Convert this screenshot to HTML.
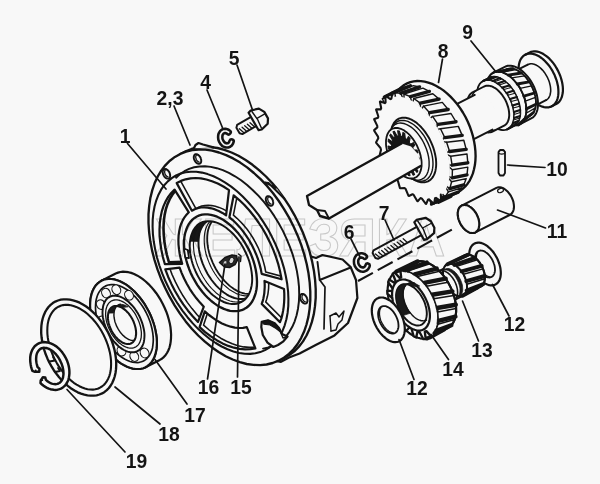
<!DOCTYPE html>
<html><head><meta charset="utf-8"><title>diagram</title>
<style>html,body{margin:0;padding:0;background:#f8f8f8;}svg{display:block;}text{font-family:"Liberation Sans",sans-serif;}svg{opacity:0.999;}</style>
</head><body>
<svg width="600" height="484" viewBox="0 0 600 484">
<rect width="600" height="484" fill="#f8f8f8"/>
<path d="M525.3 54.7 L524.1 55.4 L522.9 56.4 L521.9 57.5 L521.0 58.8 L520.2 60.3 L519.6 61.9 L519.1 63.7 L518.8 65.6 L518.6 67.6 L518.6 69.7 L518.7 71.9 L518.9 74.2 L519.4 76.5 L519.9 78.8 L520.6 81.2 L521.5 83.5 L522.4 85.9 L523.5 88.1 L524.7 90.4 L526.0 92.5 L527.4 94.6 L528.9 96.5 L530.5 98.3 L532.1 100.0 L533.8 101.6 L535.5 103.0 L537.2 104.2 L539.0 105.2 L540.7 106.0 L542.4 106.7 L544.1 107.1 L545.7 107.4 L547.3 107.4 L548.9 107.3 L550.3 106.9 L551.7 106.3 L556.1 104.1 L557.4 103.3 L558.5 102.4 L559.6 101.2 L560.5 99.9 L561.2 98.4 L561.9 96.8 L562.3 95.0 L562.7 93.1 L562.9 91.1 L562.9 89.0 L562.8 86.8 L562.5 84.5 L562.1 82.2 L561.5 79.9 L560.8 77.5 L560.0 75.2 L559.0 72.9 L557.9 70.6 L556.7 68.4 L555.4 66.2 L554.0 64.2 L552.5 62.2 L551.0 60.4 L549.4 58.7 L547.7 57.2 L546.0 55.8 L544.2 54.6 L542.5 53.5 L540.8 52.7 L539.0 52.0 L537.4 51.6 L535.7 51.3 L534.1 51.3 L532.6 51.5 L531.1 51.8 L529.8 52.4Z" fill="#f8f8f8" stroke="#141414" stroke-width="2.21" stroke-linejoin="round" stroke-linecap="round" />
<path d="M551.7 106.3 L552.9 105.6 L554.1 104.6 L555.1 103.5 L556.0 102.2 L556.8 100.7 L557.4 99.1 L557.9 97.3 L558.2 95.4 L558.4 93.4 L558.4 91.3 L558.3 89.1 L558.1 86.8 L557.6 84.5 L557.1 82.2 L556.4 79.8 L555.5 77.5 L554.6 75.1 L553.5 72.9 L552.3 70.6 L551.0 68.5 L549.6 66.4 L548.1 64.5 L546.5 62.7 L544.9 61.0 L543.2 59.4 L541.5 58.0 L539.8 56.8 L538.0 55.8 L536.3 55.0 L534.6 54.3 L532.9 53.9 L531.3 53.6 L529.7 53.6 L528.1 53.7 L526.7 54.1 L525.3 54.7" fill="none" stroke="#141414" stroke-width="2.21" stroke-linejoin="round" stroke-linecap="round" />
<path d="M510.9 73.2 L510.1 73.7 L509.3 74.4 L508.6 75.2 L507.9 76.1 L507.4 77.1 L507.0 78.2 L506.6 79.4 L506.4 80.7 L506.3 82.1 L506.2 83.6 L506.3 85.1 L506.5 86.7 L506.8 88.2 L507.2 89.9 L507.7 91.5 L508.2 93.1 L508.9 94.7 L509.7 96.3 L510.5 97.8 L511.4 99.3 L512.4 100.7 L513.4 102.0 L514.5 103.3 L515.6 104.5 L516.7 105.5 L517.9 106.5 L519.1 107.3 L520.3 108.0 L521.5 108.6 L522.7 109.1 L523.9 109.4 L525.0 109.5 L526.1 109.6 L527.1 109.5 L528.1 109.2 L529.1 108.8 L546.0 100.2 L546.9 99.7 L547.7 99.0 L548.4 98.2 L549.0 97.3 L549.5 96.3 L550.0 95.2 L550.3 94.0 L550.5 92.6 L550.7 91.3 L550.7 89.8 L550.6 88.3 L550.4 86.7 L550.1 85.1 L549.7 83.5 L549.3 81.9 L548.7 80.3 L548.0 78.7 L547.3 77.1 L546.4 75.6 L545.5 74.1 L544.6 72.7 L543.5 71.3 L542.5 70.1 L541.3 68.9 L540.2 67.8 L539.0 66.9 L537.8 66.0 L536.6 65.3 L535.4 64.8 L534.2 64.3 L533.1 64.0 L531.9 63.8 L530.8 63.8 L529.8 63.9 L528.8 64.2 L527.8 64.6Z" fill="#f8f8f8" stroke="#f8f8f8" stroke-width="0.1" stroke-linejoin="round" stroke-linecap="round" />
<path d="M510.9 73.2 L527.8 64.6" fill="none" stroke="#141414" stroke-width="1.95" stroke-linejoin="round" stroke-linecap="round" />
<path d="M529.1 108.8 L546.0 100.2" fill="none" stroke="#141414" stroke-width="1.95" stroke-linejoin="round" stroke-linecap="round" />
<path d="M546.0 100.2 L546.9 99.7 L547.7 99.0 L548.4 98.2 L549.0 97.3 L549.5 96.3 L550.0 95.2 L550.3 94.0 L550.5 92.6 L550.7 91.3 L550.7 89.8 L550.6 88.3 L550.4 86.7 L550.1 85.1 L549.7 83.5 L549.3 81.9 L548.7 80.3 L548.0 78.7 L547.3 77.1 L546.4 75.6 L545.5 74.1 L544.6 72.7 L543.5 71.3 L542.5 70.1 L541.3 68.9 L540.2 67.8 L539.0 66.9 L537.8 66.0 L536.6 65.3 L535.4 64.8 L534.2 64.3 L533.1 64.0 L531.9 63.8 L530.8 63.8 L529.8 63.9 L528.8 64.2 L527.8 64.6" fill="none" stroke="#141414" stroke-width="1.56" stroke-linejoin="round" stroke-linecap="round" />
<path d="M493.3 72.7 L492.1 73.4 L490.9 74.4 L489.9 75.5 L489.0 76.8 L488.2 78.3 L487.6 79.9 L487.1 81.7 L486.8 83.6 L486.6 85.6 L486.6 87.7 L486.7 89.9 L486.9 92.2 L487.4 94.5 L487.9 96.8 L488.6 99.2 L489.5 101.5 L490.4 103.9 L491.5 106.1 L492.7 108.4 L494.0 110.5 L495.4 112.6 L496.9 114.5 L498.5 116.3 L500.1 118.0 L501.8 119.6 L503.5 121.0 L505.2 122.2 L507.0 123.2 L508.7 124.0 L510.4 124.7 L512.1 125.1 L513.7 125.4 L515.3 125.4 L516.9 125.3 L518.3 124.9 L519.7 124.3 L531.2 118.4 L532.5 117.7 L533.7 116.7 L534.7 115.6 L535.6 114.3 L536.3 112.8 L537.0 111.2 L537.5 109.4 L537.8 107.5 L538.0 105.5 L538.0 103.4 L537.9 101.2 L537.6 98.9 L537.2 96.6 L536.7 94.3 L536.0 91.9 L535.1 89.6 L534.2 87.2 L533.1 85.0 L531.9 82.7 L530.6 80.6 L529.2 78.5 L527.7 76.6 L526.1 74.8 L524.5 73.1 L522.8 71.5 L521.1 70.1 L519.4 68.9 L517.6 67.9 L515.9 67.1 L514.2 66.4 L512.5 66.0 L510.8 65.7 L509.2 65.7 L507.7 65.8 L506.3 66.2 L504.9 66.8Z" fill="#f8f8f8" stroke="#141414" stroke-width="1.95" stroke-linejoin="round" stroke-linecap="round" />
<path d="M519.7 124.3 L520.9 123.6 L522.1 122.6 L523.1 121.5 L524.0 120.2 L524.8 118.7 L525.4 117.1 L525.9 115.3 L526.2 113.4 L526.4 111.4 L526.4 109.3 L526.3 107.1 L526.1 104.8 L525.6 102.5 L525.1 100.2 L524.4 97.8 L523.5 95.5 L522.6 93.1 L521.5 90.9 L520.3 88.6 L519.0 86.5 L517.6 84.4 L516.1 82.5 L514.5 80.7 L512.9 79.0 L511.2 77.4 L509.5 76.0 L507.8 74.8 L506.0 73.8 L504.3 73.0 L502.6 72.3 L500.9 71.9 L499.3 71.6 L497.7 71.6 L496.1 71.7 L494.7 72.1 L493.3 72.7" fill="none" stroke="#141414" stroke-width="1.95" stroke-linejoin="round" stroke-linecap="round" />
<path d="M518.4 124.9 L522.6 122.1 L531.3 114.8 L527.2 116.6Z" fill="#f8f8f8" stroke="#141414" stroke-width="1.3" stroke-linejoin="round" stroke-linecap="round" />
<path d="M518.4 124.9 L527.2 116.6" fill="none" stroke="#141414" stroke-width="2.86" stroke-linejoin="round" stroke-linecap="round" />
<path d="M524.5 119.3 L526.2 113.3 L535.4 107.9 L533.3 112.7Z" fill="#f8f8f8" stroke="#141414" stroke-width="1.3" stroke-linejoin="round" stroke-linecap="round" />
<path d="M524.5 119.3 L533.3 112.7" fill="none" stroke="#141414" stroke-width="2.86" stroke-linejoin="round" stroke-linecap="round" />
<path d="M526.4 108.9 L525.3 101.1 L535.5 97.4 L535.9 104.2Z" fill="#f8f8f8" stroke="#141414" stroke-width="1.3" stroke-linejoin="round" stroke-linecap="round" />
<path d="M526.4 108.9 L535.9 104.2" fill="none" stroke="#141414" stroke-width="2.86" stroke-linejoin="round" stroke-linecap="round" />
<path d="M523.8 96.2 L520.1 88.4 L531.6 85.9 L534.4 93.0Z" fill="#f8f8f8" stroke="#141414" stroke-width="1.3" stroke-linejoin="round" stroke-linecap="round" />
<path d="M523.8 96.2 L534.4 93.0" fill="none" stroke="#141414" stroke-width="2.86" stroke-linejoin="round" stroke-linecap="round" />
<path d="M517.2 84.0 L511.8 77.9 L524.6 75.9 L529.2 81.8Z" fill="#f8f8f8" stroke="#141414" stroke-width="1.3" stroke-linejoin="round" stroke-linecap="round" />
<path d="M517.2 84.0 L529.2 81.8" fill="none" stroke="#141414" stroke-width="2.86" stroke-linejoin="round" stroke-linecap="round" />
<path d="M508.2 75.1 L502.2 72.2 L516.1 69.7 L521.4 73.0Z" fill="#f8f8f8" stroke="#141414" stroke-width="1.3" stroke-linejoin="round" stroke-linecap="round" />
<path d="M508.2 75.1 L521.4 73.0" fill="none" stroke="#141414" stroke-width="2.86" stroke-linejoin="round" stroke-linecap="round" />
<path d="M498.7 71.6 L493.7 72.5 L508.1 68.8 L512.9 68.7Z" fill="#f8f8f8" stroke="#141414" stroke-width="1.3" stroke-linejoin="round" stroke-linecap="round" />
<path d="M498.7 71.6 L512.9 68.7" fill="none" stroke="#141414" stroke-width="2.86" stroke-linejoin="round" stroke-linecap="round" />
<path d="M528.7 116.3 L529.9 115.8 L531.0 115.1 L532.0 114.2 L533.0 113.2 L533.8 112.0 L534.5 110.7 L535.0 109.2 L535.5 107.6 L535.8 105.9 L535.9 104.1 L536.0 102.2 L535.9 100.3 L535.6 98.3 L535.2 96.2 L534.7 94.1 L534.1 92.0 L533.4 89.9 L532.5 87.8 L531.5 85.8 L530.4 83.8 L529.3 81.8 L528.0 80.0 L526.7 78.2 L525.3 76.6 L523.8 75.1 L522.3 73.7 L520.8 72.5 L519.2 71.4 L517.7 70.5 L516.1 69.7 L514.6 69.1 L513.1 68.7 L511.6 68.5 L510.2 68.4 L508.8 68.6 L507.5 68.9 L506.3 69.4 L505.2 70.1" fill="none" stroke="#141414" stroke-width="1.82" stroke-linejoin="round" stroke-linecap="round" />
<path d="M516.9 125.3 L518.3 124.9 L519.7 124.3 L520.9 123.6 L522.1 122.6 L523.1 121.5 L524.0 120.2 L524.8 118.7 L525.4 117.1 L525.9 115.3 L526.2 113.4 L526.4 111.4 L526.4 109.3 L526.3 107.1 L526.1 104.8 L525.6 102.5 L525.1 100.2 L524.4 97.8 L523.5 95.5 L522.6 93.1 L521.5 90.9 L520.3 88.6 L519.0 86.5 L517.6 84.4 L516.1 82.5 L514.5 80.7 L512.9 79.0 L511.2 77.4 L509.5 76.0 L507.8 74.8 L506.0 73.8 L504.3 73.0 L502.6 72.3 L500.9 71.9 L499.3 71.6 L497.7 71.6 L496.1 71.7 L494.7 72.1 L493.3 72.7 L492.1 73.4 L490.9 74.4" fill="none" stroke="#141414" stroke-width="1.69" stroke-linejoin="round" stroke-linecap="round" />
<path d="M483.2 80.9 L482.1 81.7 L481.0 82.5 L480.0 83.6 L479.2 84.8 L478.5 86.2 L477.9 87.7 L477.5 89.4 L477.1 91.1 L477.0 93.0 L476.9 95.0 L477.0 97.0 L477.3 99.1 L477.7 101.3 L478.2 103.5 L478.8 105.6 L479.6 107.8 L480.5 110.0 L481.5 112.1 L482.7 114.2 L483.9 116.2 L485.2 118.1 L486.6 119.9 L488.0 121.6 L489.5 123.2 L491.1 124.6 L492.7 125.9 L494.3 127.0 L495.9 128.0 L497.5 128.8 L499.1 129.4 L500.7 129.8 L502.2 130.0 L503.7 130.1 L505.1 129.9 L506.5 129.6 L507.8 129.1 L514.0 125.9 L515.2 125.2 L516.2 124.3 L517.2 123.2 L518.0 122.0 L518.7 120.6 L519.3 119.1 L519.8 117.5 L520.1 115.7 L520.3 113.8 L520.3 111.8 L520.2 109.8 L519.9 107.7 L519.6 105.5 L519.0 103.4 L518.4 101.2 L517.6 99.0 L516.7 96.8 L515.7 94.7 L514.6 92.6 L513.3 90.6 L512.0 88.7 L510.7 86.9 L509.2 85.2 L507.7 83.6 L506.1 82.2 L504.5 80.9 L502.9 79.8 L501.3 78.8 L499.7 78.0 L498.1 77.4 L496.5 77.0 L495.0 76.8 L493.5 76.7 L492.1 76.9 L490.7 77.2 L489.5 77.8Z" fill="#f8f8f8" stroke="#141414" stroke-width="1.82" stroke-linejoin="round" stroke-linecap="round" />
<path d="M507.8 129.1 L508.9 128.3 L510.0 127.5 L511.0 126.4 L511.8 125.2 L512.5 123.8 L513.1 122.3 L513.5 120.6 L513.9 118.9 L514.0 117.0 L514.1 115.0 L514.0 113.0 L513.7 110.9 L513.3 108.7 L512.8 106.5 L512.2 104.4 L511.4 102.2 L510.5 100.0 L509.5 97.9 L508.3 95.8 L507.1 93.8 L505.8 91.9 L504.4 90.1 L503.0 88.4 L501.5 86.8 L499.9 85.4 L498.3 84.1 L496.7 83.0 L495.1 82.0 L493.5 81.2 L491.9 80.6 L490.3 80.2 L488.8 80.0 L487.3 79.9 L485.9 80.1 L484.5 80.4 L483.2 80.9" fill="none" stroke="#141414" stroke-width="1.82" stroke-linejoin="round" stroke-linecap="round" />
<path d="M507.1 129.3 L509.3 128.1 L514.8 125.4 L512.6 126.4Z" fill="#f8f8f8" stroke="#141414" stroke-width="1.04" stroke-linejoin="round" stroke-linecap="round" />
<path d="M507.1 129.3 L512.6 126.4" fill="none" stroke="#141414" stroke-width="2.08" stroke-linejoin="round" stroke-linecap="round" />
<path d="M510.5 126.9 L512.0 124.8 L517.8 122.4 L516.1 124.4Z" fill="#f8f8f8" stroke="#141414" stroke-width="1.04" stroke-linejoin="round" stroke-linecap="round" />
<path d="M510.5 126.9 L516.1 124.4" fill="none" stroke="#141414" stroke-width="2.08" stroke-linejoin="round" stroke-linecap="round" />
<path d="M512.8 123.1 L513.7 120.1 L519.7 118.0 L518.7 120.8Z" fill="#f8f8f8" stroke="#141414" stroke-width="1.04" stroke-linejoin="round" stroke-linecap="round" />
<path d="M512.8 123.1 L518.7 120.8" fill="none" stroke="#141414" stroke-width="2.08" stroke-linejoin="round" stroke-linecap="round" />
<path d="M514.0 117.9 L514.1 114.4 L520.3 112.4 L520.1 115.9Z" fill="#f8f8f8" stroke="#141414" stroke-width="1.04" stroke-linejoin="round" stroke-linecap="round" />
<path d="M514.0 117.9 L520.1 115.9" fill="none" stroke="#141414" stroke-width="2.08" stroke-linejoin="round" stroke-linecap="round" />
<path d="M513.9 111.9 L513.2 108.1 L519.7 106.2 L520.2 110.0Z" fill="#f8f8f8" stroke="#141414" stroke-width="1.04" stroke-linejoin="round" stroke-linecap="round" />
<path d="M513.9 111.9 L520.2 110.0" fill="none" stroke="#141414" stroke-width="2.08" stroke-linejoin="round" stroke-linecap="round" />
<path d="M512.5 105.5 L511.1 101.5 L517.9 99.7 L519.1 103.6Z" fill="#f8f8f8" stroke="#141414" stroke-width="1.04" stroke-linejoin="round" stroke-linecap="round" />
<path d="M512.5 105.5 L519.1 103.6" fill="none" stroke="#141414" stroke-width="2.08" stroke-linejoin="round" stroke-linecap="round" />
<path d="M510.0 98.9 L508.0 95.2 L514.9 93.3 L516.8 97.1Z" fill="#f8f8f8" stroke="#141414" stroke-width="1.04" stroke-linejoin="round" stroke-linecap="round" />
<path d="M510.0 98.9 L516.8 97.1" fill="none" stroke="#141414" stroke-width="2.08" stroke-linejoin="round" stroke-linecap="round" />
<path d="M506.5 92.9 L504.0 89.6 L511.1 87.4 L513.5 90.8Z" fill="#f8f8f8" stroke="#141414" stroke-width="1.04" stroke-linejoin="round" stroke-linecap="round" />
<path d="M506.5 92.9 L513.5 90.8" fill="none" stroke="#141414" stroke-width="2.08" stroke-linejoin="round" stroke-linecap="round" />
<path d="M502.2 87.6 L499.4 85.0 L506.6 82.6 L509.4 85.4Z" fill="#f8f8f8" stroke="#141414" stroke-width="1.04" stroke-linejoin="round" stroke-linecap="round" />
<path d="M502.2 87.6 L509.4 85.4" fill="none" stroke="#141414" stroke-width="2.08" stroke-linejoin="round" stroke-linecap="round" />
<path d="M497.5 83.5 L494.6 81.7 L501.8 79.1 L504.7 81.0Z" fill="#f8f8f8" stroke="#141414" stroke-width="1.04" stroke-linejoin="round" stroke-linecap="round" />
<path d="M497.5 83.5 L504.7 81.0" fill="none" stroke="#141414" stroke-width="2.08" stroke-linejoin="round" stroke-linecap="round" />
<path d="M492.7 80.9 L489.8 80.1 L497.0 77.1 L499.9 78.1Z" fill="#f8f8f8" stroke="#141414" stroke-width="1.04" stroke-linejoin="round" stroke-linecap="round" />
<path d="M492.7 80.9 L499.9 78.1" fill="none" stroke="#141414" stroke-width="2.08" stroke-linejoin="round" stroke-linecap="round" />
<path d="M488.0 79.9 L485.4 80.2 L492.5 76.8 L495.1 76.8Z" fill="#f8f8f8" stroke="#141414" stroke-width="1.04" stroke-linejoin="round" stroke-linecap="round" />
<path d="M488.0 79.9 L495.1 76.8" fill="none" stroke="#141414" stroke-width="2.08" stroke-linejoin="round" stroke-linecap="round" />
<path d="M483.9 80.7 L482.1 81.7 L489.0 78.0 L490.9 77.2Z" fill="#f8f8f8" stroke="#141414" stroke-width="1.04" stroke-linejoin="round" stroke-linecap="round" />
<path d="M483.9 80.7 L490.9 77.2" fill="none" stroke="#141414" stroke-width="2.08" stroke-linejoin="round" stroke-linecap="round" />
<path d="M472.5 92.4 L471.6 93.0 L470.7 93.7 L469.9 94.6 L469.2 95.6 L468.6 96.7 L468.2 97.9 L467.8 99.3 L467.5 100.7 L467.4 102.2 L467.4 103.8 L467.5 105.5 L467.7 107.2 L468.0 109.0 L468.4 110.7 L468.9 112.5 L469.6 114.3 L470.3 116.1 L471.1 117.8 L472.0 119.5 L473.0 121.1 L474.1 122.7 L475.2 124.1 L476.4 125.5 L477.6 126.8 L478.9 128.0 L480.2 129.0 L481.5 130.0 L482.8 130.7 L484.2 131.4 L485.5 131.9 L486.7 132.2 L488.0 132.4 L489.2 132.4 L490.4 132.3 L491.5 132.0 L492.5 131.6 L504.1 125.7 L505.0 125.1 L505.9 124.4 L506.7 123.5 L507.4 122.5 L507.9 121.4 L508.4 120.2 L508.8 118.8 L509.0 117.4 L509.2 115.9 L509.2 114.3 L509.1 112.6 L508.9 110.9 L508.6 109.1 L508.2 107.4 L507.6 105.6 L507.0 103.8 L506.3 102.0 L505.5 100.3 L504.5 98.6 L503.5 97.0 L502.5 95.4 L501.4 94.0 L500.2 92.6 L498.9 91.3 L497.7 90.1 L496.4 89.1 L495.1 88.1 L493.7 87.4 L492.4 86.7 L491.1 86.2 L489.8 85.9 L488.6 85.7 L487.4 85.7 L486.2 85.8 L485.1 86.1 L484.1 86.5Z" fill="#f8f8f8" stroke="#141414" stroke-width="1.95" stroke-linejoin="round" stroke-linecap="round" />
<path d="M475.6 90.9 L474.7 91.7 L473.9 92.5 L473.2 93.5 L472.7 94.6 L472.2 95.9 L471.8 97.2 L471.6 98.7 L471.4 100.2 L471.4 101.8 L471.5 103.5 L471.7 105.2 L472.0 106.9 L472.4 108.7 L472.9 110.5 L473.6 112.3 L474.3 114.0 L475.1 115.7 L476.1 117.4 L477.0 119.1 L478.1 120.6 L479.2 122.1 L480.4 123.5 L481.7 124.8 L482.9 125.9 L484.2 127.0 L485.5 127.9 L486.9 128.7 L488.2 129.3 L489.5 129.8 L490.8 130.2 L492.0 130.4 L493.2 130.4 L494.4 130.3 L495.5 130.0" fill="none" stroke="#141414" stroke-width="1.43" stroke-linejoin="round" stroke-linecap="round" />
<path d="M431.1 117.1 L430.3 117.6 L429.5 118.3 L428.8 119.0 L428.2 119.9 L427.7 120.9 L427.3 122.0 L427.0 123.2 L426.7 124.5 L426.6 125.8 L426.6 127.3 L426.7 128.7 L426.8 130.3 L427.1 131.8 L427.5 133.4 L428.0 135.0 L428.5 136.5 L429.2 138.1 L429.9 139.6 L430.7 141.1 L431.6 142.6 L432.6 144.0 L433.6 145.3 L434.6 146.5 L435.7 147.6 L436.8 148.7 L438.0 149.6 L439.1 150.4 L440.3 151.1 L441.5 151.7 L442.6 152.1 L443.8 152.4 L444.9 152.6 L445.9 152.6 L447.0 152.5 L447.9 152.3 L448.9 151.9 L492.5 129.6 L493.4 129.1 L494.1 128.5 L494.8 127.7 L495.4 126.8 L495.9 125.8 L496.4 124.7 L496.7 123.5 L496.9 122.3 L497.0 120.9 L497.1 119.5 L497.0 118.0 L496.8 116.5 L496.5 114.9 L496.2 113.4 L495.7 111.8 L495.1 110.2 L494.5 108.7 L493.7 107.1 L492.9 105.6 L492.0 104.2 L491.1 102.8 L490.1 101.5 L489.1 100.3 L488.0 99.1 L486.8 98.1 L485.7 97.2 L484.5 96.3 L483.4 95.6 L482.2 95.1 L481.0 94.6 L479.9 94.3 L478.8 94.2 L477.7 94.1 L476.7 94.3 L475.7 94.5 L474.8 94.9Z" fill="#f8f8f8" stroke="#f8f8f8" stroke-width="0.1" stroke-linejoin="round" stroke-linecap="round" />
<path d="M431.1 117.1 L474.8 94.9" fill="none" stroke="#141414" stroke-width="1.95" stroke-linejoin="round" stroke-linecap="round" />
<path d="M448.9 151.9 L492.5 129.6" fill="none" stroke="#141414" stroke-width="1.95" stroke-linejoin="round" stroke-linecap="round" />
<path d="M435.7 193.4 L439.4 194.4 L443.1 194.9 L446.8 195.0 L450.3 194.6 L453.7 193.8 L456.9 192.6 L459.9 191.0 L462.7 188.9 L465.3 186.5 L467.6 183.7 L469.7 180.6 L471.4 177.1 L472.9 173.4 L474.0 169.3 L474.9 165.1 L475.4 160.6 L475.6 156.0 L475.4 151.2 L474.9 146.3 L474.1 141.4 L473.0 136.4 L471.5 131.4 L469.8 126.5 L467.8 121.7 L465.5 117.0 L462.9 112.5 L460.1 108.1 L457.1 104.0 L453.9 100.2 L450.5 96.6 L447.0 93.3 L443.4 90.4 L439.7 87.9 L435.9 85.7 L432.1 83.9 L428.3 82.6 L424.6 81.6 L420.9 81.1 L417.2 81.0 L413.7 81.4 L410.3 82.2 L407.1 83.4 L404.1 85.0 L401.3 87.1 L398.7 89.5 L396.4 92.3 L394.3 95.4 L392.6 98.9Z" fill="#f8f8f8" stroke="#141414" stroke-width="2.34" stroke-linejoin="round" stroke-linecap="round" />
<path d="M388.1 94.7 L385.6 96.1 L383.2 97.9 L381.1 100.1 L379.3 102.7 L377.7 105.7 L376.4 108.9 L375.3 112.5 L374.6 116.3 L374.1 120.4 L374.0 124.7 L374.1 129.1 L374.5 133.8 L375.3 138.5 L376.3 143.3 L377.6 148.1 L379.2 153.0 L381.0 157.8 L383.1 162.6 L385.4 167.2 L387.9 171.7 L390.6 176.0 L393.5 180.1 L396.5 184.0 L399.6 187.6 L402.9 190.9 L406.2 193.9 L409.6 196.5 L413.1 198.8 L416.5 200.7 L419.9 202.2 L423.2 203.2 L426.5 203.9 L429.6 204.1 L432.7 204.0 L435.6 203.4 L438.3 202.3 L453.7 195.2 L456.2 193.7 L458.6 191.9 L460.7 189.7 L462.5 187.1 L464.1 184.2 L465.4 180.9 L466.5 177.4 L467.2 173.5 L467.7 169.4 L467.8 165.2 L467.7 160.7 L467.3 156.1 L466.5 151.3 L465.5 146.5 L464.2 141.7 L462.7 136.8 L460.8 132.0 L458.8 127.3 L456.5 122.6 L453.9 118.1 L451.2 113.8 L448.4 109.7 L445.3 105.8 L442.2 102.2 L438.9 98.9 L435.6 95.9 L432.2 93.3 L428.8 91.0 L425.3 89.2 L421.9 87.7 L418.6 86.6 L415.3 85.9 L412.2 85.7 L409.1 85.9 L406.2 86.5 L403.5 87.5Z" fill="#f8f8f8" stroke="#f8f8f8" stroke-width="0.1" stroke-linejoin="round" stroke-linecap="round" />
<path d="M431.5 204.1 L435.8 203.3 L448.2 196.8 L443.7 196.9Z" fill="#f8f8f8" stroke="#141414" stroke-width="1.43" stroke-linejoin="round" stroke-linecap="round" />
<path d="M431.5 204.1 L443.7 196.9" fill="none" stroke="#141414" stroke-width="3.38" stroke-linejoin="round" stroke-linecap="round" />
<path d="M431.5 204.1 L429.0 199.0 L434.4 198.0 L435.8 203.3" fill="none" stroke="#141414" stroke-width="1.43" stroke-linejoin="round" stroke-linecap="round" />
<path d="M438.4 202.3 L443.0 199.2 L456.0 193.9 L451.0 196.2Z" fill="#f8f8f8" stroke="#141414" stroke-width="1.43" stroke-linejoin="round" stroke-linecap="round" />
<path d="M438.4 202.3 L451.0 196.2" fill="none" stroke="#141414" stroke-width="3.38" stroke-linejoin="round" stroke-linecap="round" />
<path d="M438.4 202.3 L435.4 197.6 L440.9 193.9 L443.0 199.2" fill="none" stroke="#141414" stroke-width="1.43" stroke-linejoin="round" stroke-linecap="round" />
<path d="M445.1 197.0 L448.4 191.9 L462.1 187.7 L458.3 192.1Z" fill="#f8f8f8" stroke="#141414" stroke-width="1.43" stroke-linejoin="round" stroke-linecap="round" />
<path d="M445.1 197.0 L458.3 192.1" fill="none" stroke="#141414" stroke-width="3.38" stroke-linejoin="round" stroke-linecap="round" />
<path d="M445.1 197.0 L441.6 193.1 L445.6 187.0 L448.4 191.9" fill="none" stroke="#141414" stroke-width="1.43" stroke-linejoin="round" stroke-linecap="round" />
<path d="M449.8 188.7 L451.6 181.8 L466.2 178.6 L463.8 184.9Z" fill="#f8f8f8" stroke="#141414" stroke-width="1.43" stroke-linejoin="round" stroke-linecap="round" />
<path d="M449.8 188.7 L463.8 184.9" fill="none" stroke="#141414" stroke-width="3.38" stroke-linejoin="round" stroke-linecap="round" />
<path d="M449.8 188.7 L446.1 185.9 L448.2 177.7 L451.6 181.8" fill="none" stroke="#141414" stroke-width="1.43" stroke-linejoin="round" stroke-linecap="round" />
<path d="M452.2 177.9 L452.4 169.7 L467.8 167.1 L467.0 174.9Z" fill="#f8f8f8" stroke="#141414" stroke-width="1.43" stroke-linejoin="round" stroke-linecap="round" />
<path d="M452.2 177.9 L467.0 174.9" fill="none" stroke="#141414" stroke-width="3.38" stroke-linejoin="round" stroke-linecap="round" />
<path d="M452.2 177.9 L448.4 176.3 L448.7 166.6 L452.4 169.7" fill="none" stroke="#141414" stroke-width="1.43" stroke-linejoin="round" stroke-linecap="round" />
<path d="M452.1 165.2 L450.7 156.3 L467.0 154.0 L467.8 162.8Z" fill="#f8f8f8" stroke="#141414" stroke-width="1.43" stroke-linejoin="round" stroke-linecap="round" />
<path d="M452.1 165.2 L467.8 162.8" fill="none" stroke="#141414" stroke-width="3.38" stroke-linejoin="round" stroke-linecap="round" />
<path d="M452.1 165.2 L448.6 164.9 L446.9 154.3 L450.7 156.3" fill="none" stroke="#141414" stroke-width="1.43" stroke-linejoin="round" stroke-linecap="round" />
<path d="M449.6 151.5 L446.6 142.3 L463.8 140.2 L466.2 149.4Z" fill="#f8f8f8" stroke="#141414" stroke-width="1.43" stroke-linejoin="round" stroke-linecap="round" />
<path d="M449.6 151.5 L466.2 149.4" fill="none" stroke="#141414" stroke-width="3.38" stroke-linejoin="round" stroke-linecap="round" />
<path d="M449.6 151.5 L446.5 152.5 L443.1 141.6 L446.6 142.3" fill="none" stroke="#141414" stroke-width="1.43" stroke-linejoin="round" stroke-linecap="round" />
<path d="M444.8 137.6 L440.5 128.8 L458.3 126.4 L462.2 135.4Z" fill="#f8f8f8" stroke="#141414" stroke-width="1.43" stroke-linejoin="round" stroke-linecap="round" />
<path d="M444.8 137.6 L462.2 135.4" fill="none" stroke="#141414" stroke-width="3.38" stroke-linejoin="round" stroke-linecap="round" />
<path d="M444.8 137.6 L442.4 139.9 L437.3 129.4 L440.5 128.8" fill="none" stroke="#141414" stroke-width="1.43" stroke-linejoin="round" stroke-linecap="round" />
<path d="M438.0 124.4 L432.6 116.4 L451.0 113.5 L456.0 121.8Z" fill="#f8f8f8" stroke="#141414" stroke-width="1.43" stroke-linejoin="round" stroke-linecap="round" />
<path d="M438.0 124.4 L456.0 121.8" fill="none" stroke="#141414" stroke-width="3.38" stroke-linejoin="round" stroke-linecap="round" />
<path d="M438.0 124.4 L436.4 127.8 L430.0 118.4 L432.6 116.4" fill="none" stroke="#141414" stroke-width="1.43" stroke-linejoin="round" stroke-linecap="round" />
<path d="M429.6 112.7 L423.5 106.1 L442.3 102.4 L448.2 109.5Z" fill="#f8f8f8" stroke="#141414" stroke-width="1.43" stroke-linejoin="round" stroke-linecap="round" />
<path d="M429.6 112.7 L448.2 109.5" fill="none" stroke="#141414" stroke-width="3.38" stroke-linejoin="round" stroke-linecap="round" />
<path d="M429.6 112.7 L428.9 117.0 L421.7 109.2 L423.5 106.1" fill="none" stroke="#141414" stroke-width="1.43" stroke-linejoin="round" stroke-linecap="round" />
<path d="M420.3 103.2 L413.8 98.5 L432.8 93.7 L439.1 99.1Z" fill="#f8f8f8" stroke="#141414" stroke-width="1.43" stroke-linejoin="round" stroke-linecap="round" />
<path d="M420.3 103.2 L439.1 99.1" fill="none" stroke="#141414" stroke-width="3.38" stroke-linejoin="round" stroke-linecap="round" />
<path d="M420.3 103.2 L420.5 108.2 L412.8 102.6 L413.8 98.5" fill="none" stroke="#141414" stroke-width="1.43" stroke-linejoin="round" stroke-linecap="round" />
<path d="M410.4 96.6 L404.0 94.0 L422.9 88.1 L429.4 91.4Z" fill="#f8f8f8" stroke="#141414" stroke-width="1.43" stroke-linejoin="round" stroke-linecap="round" />
<path d="M410.4 96.6 L429.4 91.4" fill="none" stroke="#141414" stroke-width="3.38" stroke-linejoin="round" stroke-linecap="round" />
<path d="M410.4 96.6 L411.6 101.9 L404.0 98.8 L404.0 94.0" fill="none" stroke="#141414" stroke-width="1.43" stroke-linejoin="round" stroke-linecap="round" />
<path d="M400.8 93.2 L394.8 92.9 L413.4 85.7 L419.6 86.9Z" fill="#f8f8f8" stroke="#141414" stroke-width="1.43" stroke-linejoin="round" stroke-linecap="round" />
<path d="M400.8 93.2 L419.6 86.9" fill="none" stroke="#141414" stroke-width="3.38" stroke-linejoin="round" stroke-linecap="round" />
<path d="M400.8 93.2 L402.8 98.5 L395.7 98.1 L394.8 92.9" fill="none" stroke="#141414" stroke-width="1.43" stroke-linejoin="round" stroke-linecap="round" />
<path d="M391.9 93.4 L386.8 95.3 L404.9 86.9 L410.4 85.7Z" fill="#f8f8f8" stroke="#141414" stroke-width="1.43" stroke-linejoin="round" stroke-linecap="round" />
<path d="M391.9 93.4 L410.4 85.7" fill="none" stroke="#141414" stroke-width="3.38" stroke-linejoin="round" stroke-linecap="round" />
<path d="M391.9 93.4 L394.7 98.3 L388.6 100.7 L386.8 95.3" fill="none" stroke="#141414" stroke-width="1.43" stroke-linejoin="round" stroke-linecap="round" />
<path d="M384.4 96.9 L382.4 98.8 L400.1 89.5 L402.3 88.1Z" fill="#f8f8f8" stroke="#141414" stroke-width="1.43" stroke-linejoin="round" stroke-linecap="round" />
<path d="M384.4 96.9 L402.3 88.1" fill="none" stroke="#141414" stroke-width="3.38" stroke-linejoin="round" stroke-linecap="round" />
<path d="M384.4 96.9 L387.7 101.3 L384.7 104.0 L382.4 98.8" fill="none" stroke="#141414" stroke-width="1.43" stroke-linejoin="round" stroke-linecap="round" />
<path d="M436.6 198.7 L439.0 197.4 L441.1 195.7 L443.1 193.6 L444.8 191.2 L446.3 188.5 L447.5 185.4 L448.5 182.1 L449.2 178.5 L449.6 174.7 L449.8 170.7 L449.7 166.6 L449.3 162.2 L448.6 157.8 L447.6 153.4 L446.4 148.8 L445.0 144.3 L443.3 139.8 L441.3 135.4 L439.2 131.1 L436.8 126.9 L434.3 122.8 L431.6 119.0 L428.8 115.4 L425.8 112.0 L422.8 109.0 L419.7 106.2 L416.5 103.7 L413.3 101.6 L410.1 99.9 L407.0 98.5 L403.9 97.5 L400.8 96.8 L397.9 96.6 L395.0 96.8 L392.3 97.3 L389.8 98.3 L387.4 99.6 L385.3 101.3 L383.3 103.4 L381.6 105.8 L380.1 108.5 L378.9 111.6 L377.9 114.9 L377.2 118.5 L376.8 122.3 L376.6 126.3 L376.7 130.4 L377.1 134.8 L377.8 139.2 L378.8 143.6 L380.0 148.2 L381.4 152.7 L383.1 157.2 L385.1 161.6 L387.2 165.9 L389.6 170.1 L392.1 174.2 L394.8 178.0 L397.6 181.6 L400.6 185.0 L403.6 188.0 L406.7 190.8 L409.9 193.3 L413.1 195.4 L416.3 197.1 L419.4 198.5 L422.5 199.5 L425.6 200.2 L428.5 200.4 L431.4 200.2 L434.1 199.7 L436.6 198.7Z" fill="#f8f8f8" stroke="#f8f8f8" stroke-width="0.1" stroke-linejoin="round" stroke-linecap="round" />
<path d="M392.6 93.2 L392.3 93.3 L391.4 98.7 L390.4 99.1 L385.7 96.0 L385.4 96.2 L385.6 102.4 L384.8 103.1 L380.2 101.4 L379.9 101.7 L381.2 108.3 L380.6 109.4 L376.3 109.2 L376.1 109.6 L378.3 116.3 L378.1 117.7 L374.3 118.9 L374.2 119.5 L377.3 125.9 L377.3 127.4 L374.2 130.1 L374.2 130.7 L378.0 136.6 L378.3 138.3 L376.1 142.3 L376.2 142.9 L380.5 148.0 L381.0 149.7 L379.8 154.8 L380.0 155.4 L384.7 159.3 L385.4 161.0 L385.2 166.9 L385.5 167.5 L390.2 170.1 L391.2 171.7 L392.0 178.1 L392.4 178.7 L396.9 179.8 L398.0 181.2 L399.9 187.9 L400.3 188.3 L404.5 188.0 L405.7 189.1 L408.4 195.6 L408.9 196.0 L412.5 194.2 L413.7 194.9 L417.2 201.0 L417.7 201.2 L420.5 198.1 L421.7 198.4 L425.8 203.8 L426.2 203.9 L428.1 199.5 L429.2 199.4 L433.8 203.8 L434.1 203.7 L435.0 198.3 L436.0 197.9 L440.7 201.0 L441.0 200.8 L440.8 194.6" fill="#f8f8f8" stroke="#141414" stroke-width="2.08" stroke-linejoin="round" stroke-linecap="round" />
<path d="M428.0 181.3 L429.5 180.4 L430.8 179.4 L432.0 178.1 L433.1 176.6 L434.0 174.9 L434.8 173.0 L435.4 170.9 L435.8 168.7 L436.1 166.3 L436.2 163.8 L436.1 161.2 L435.9 158.6 L435.4 155.8 L434.8 153.0 L434.1 150.2 L433.2 147.4 L432.1 144.6 L430.9 141.8 L429.6 139.1 L428.1 136.5 L426.5 134.0 L424.9 131.6 L423.1 129.4 L421.3 127.3 L419.4 125.4 L417.4 123.6 L415.5 122.1 L413.5 120.8 L411.5 119.7 L409.5 118.8 L407.6 118.2 L405.7 117.8 L403.8 117.7 L402.1 117.8 L400.4 118.1 L398.8 118.7 L397.3 119.6 L396.0 120.6 L394.8 121.9 L393.7 123.4 L392.8 125.1 L392.0 127.0 L391.4 129.1 L391.0 131.3 L390.7 133.7 L390.6 136.2 L390.7 138.8 L390.9 141.4 L391.4 144.2 L392.0 147.0 L392.7 149.8 L393.6 152.6 L394.7 155.4 L395.9 158.2 L397.2 160.9 L398.7 163.5 L400.3 166.0 L401.9 168.4 L403.7 170.6 L405.5 172.7 L407.4 174.6 L409.4 176.4 L411.3 177.9 L413.3 179.2 L415.3 180.3 L417.3 181.2 L419.2 181.8 L421.1 182.2 L423.0 182.3 L424.7 182.2 L426.4 181.9 L428.0 181.3Z" fill="#f8f8f8" stroke="#141414" stroke-width="1.95" stroke-linejoin="round" stroke-linecap="round" />
<path d="M411.4 178.3 L413.3 179.3 L415.1 180.2 L417.0 180.7 L418.8 181.1 L420.5 181.2 L422.2 181.1 L423.7 180.8 L425.2 180.3 L426.6 179.5 L427.9 178.5 L429.0 177.3 L430.0 175.8 L430.9 174.2 L431.6 172.5 L432.2 170.5 L432.6 168.4 L432.9 166.2 L433.0 163.8 L432.9 161.4 L432.7 158.9 L432.3 156.3 L431.7 153.6 L431.0 151.0 L430.1 148.3 L429.1 145.7 L428.0 143.1 L426.7 140.6 L425.4 138.1 L423.9 135.7 L422.3 133.5 L420.6 131.4 L418.9 129.4 L417.1 127.6 L415.3 126.0 L413.5 124.5 L411.6 123.3 L409.7 122.3 L407.9 121.4 L406.0 120.9 L404.2 120.5 L402.5 120.4 L400.8 120.5 L399.3 120.8 L397.8 121.3 L396.4 122.1 L395.1 123.1 L394.0 124.3 L393.0 125.8" fill="none" stroke="#141414" stroke-width="1.43" stroke-linejoin="round" stroke-linecap="round" />
<path d="M408.9 177.4 L410.7 178.4 L412.4 179.1 L414.1 179.7 L415.8 180.0 L417.4 180.2 L419.0 180.1 L420.5 179.8 L421.9 179.2 L423.2 178.5 L424.4 177.6 L425.5 176.4 L426.4 175.1 L427.2 173.6 L427.9 171.9 L428.4 170.1 L428.8 168.1 L429.1 166.0 L429.1 163.8 L429.1 161.5 L428.9 159.2 L428.5 156.7 L428.0 154.3 L427.3 151.8 L426.5 149.3 L425.5 146.8 L424.5 144.4 L423.3 142.0 L422.0 139.7 L420.6 137.5 L419.1 135.4 L417.6 133.4 L416.0 131.5 L414.3 129.8 L412.6 128.3 L410.8 126.9 L409.1 125.8 L407.3 124.8 L405.6 124.1 L403.9 123.5 L402.2 123.2 L400.6 123.0 L399.0 123.1 L397.5 123.4 L396.1 124.0 L394.8 124.7 L393.6 125.6 L392.5 126.8 L391.6 128.1" fill="none" stroke="#141414" stroke-width="1.43" stroke-linejoin="round" stroke-linecap="round" />
<path d="M415.2 177.7 L416.4 177.0 L417.4 176.2 L418.4 175.2 L419.2 174.0 L419.9 172.7 L420.5 171.2 L421.0 169.6 L421.3 167.8 L421.6 166.0 L421.6 164.0 L421.6 162.0 L421.4 159.9 L421.0 157.8 L420.6 155.6 L420.0 153.4 L419.3 151.2 L418.4 149.0 L417.5 146.8 L416.5 144.7 L415.3 142.7 L414.1 140.7 L412.8 138.8 L411.4 137.1 L410.0 135.4 L408.5 133.9 L407.0 132.6 L405.4 131.4 L403.9 130.3 L402.3 129.5 L400.8 128.8 L399.2 128.3 L397.8 128.0 L396.3 127.9 L394.9 128.0 L393.6 128.3 L392.4 128.7 L391.2 129.4 L390.2 130.2 L389.2 131.2 L388.4 132.4 L387.7 133.7 L387.1 135.2 L386.6 136.8 L386.3 138.6 L386.0 140.4 L386.0 142.4 L386.0 144.4 L386.2 146.5 L386.6 148.6 L387.0 150.8 L387.6 153.0 L388.3 155.2 L389.2 157.4 L390.1 159.6 L391.1 161.7 L392.3 163.7 L393.5 165.7 L394.8 167.6 L396.2 169.3 L397.6 171.0 L399.1 172.5 L400.6 173.8 L402.2 175.0 L403.7 176.1 L405.3 176.9 L406.8 177.6 L408.4 178.1 L409.8 178.4 L411.3 178.5 L412.7 178.4 L414.0 178.1 L415.2 177.7Z" fill="#f8f8f8" stroke="#141414" stroke-width="1.82" stroke-linejoin="round" stroke-linecap="round" />
<path d="M414.6 174.6 L412.6 169.4 L413.6 168.5 L417.0 172.4 L417.9 170.9 L415.0 166.2 L415.5 164.8 L419.2 167.3 L419.5 165.1 L416.0 161.5 L416.0 159.7 L419.6 160.4 L419.2 157.9 L415.5 155.8 L415.0 153.8 L418.0 152.7 L417.1 150.1 L413.6 149.8 L412.7 147.8 L414.7 145.1 L413.3 142.6 L410.6 144.2 L409.3 142.5 L410.1 138.4 L408.4 136.5 L406.7 139.7 L405.3 138.5 L404.8 133.5 L402.9 132.4 L402.4 136.8 L401.0 136.2 L399.3 131.0 L397.6 130.7 L398.4 135.9 L397.1 136.0 L394.4 131.2 L393.0 131.8 L395.0 137.0 L394.0 137.9 L390.6 134.0 L389.7 135.5 L392.6 140.2 L392.1 141.6 L388.4 139.1 L388.1 141.3 L391.6 144.9 L391.6 146.7 L388.0 146.0 L388.4 148.5 L392.1 150.6 L392.6 152.6 L389.6 153.7 L390.5 156.3 L394.0 156.6 L394.9 158.6 L392.9 161.3 L394.3 163.8 L397.0 162.2 L398.3 163.9 L397.5 168.0 L399.2 169.9 L400.9 166.7 L402.3 167.9 L402.8 172.9 L404.7 174.0 L405.2 169.6 L406.6 170.2 L408.3 175.4 L410.0 175.7 L409.2 170.5 L410.5 170.4 L413.2 175.2Z" fill="#161616" stroke="#161616" stroke-width="1.04" stroke-linejoin="round" stroke-linecap="round" />
<path d="M307.0 196.0 L401.5 143.6 L411.0 146.5 L417.0 153.0 L420.0 160.0 L420.6 166.0 L329.0 218.5 L320.0 216.0 L317.0 210.0 L309.0 205.0Z" fill="#f8f8f8" stroke="#f8f8f8" stroke-width="0.1" stroke-linejoin="round" stroke-linecap="round" />
<path d="M401.5 143.6 L307.0 196.0 L309.0 205.0 L317.0 210.0 L320.0 216.0 L329.0 218.5 L420.6 166.0" fill="none" stroke="#141414" stroke-width="2.34" stroke-linejoin="round" stroke-linecap="round" />
<path d="M317.0 210.0 L325.0 211.0 L329.0 218.5" fill="none" stroke="#141414" stroke-width="1.82" stroke-linejoin="round" stroke-linecap="round" />
<path d="M498.5 152.0 L498.5 173.0 L500.0 175.5 L503.5 175.5 L505.0 173.0 L505.0 152.0 L503.5 150.0 L500.0 150.0Z" fill="#f8f8f8" stroke="#141414" stroke-width="1.82" stroke-linejoin="round" stroke-linecap="round" />
<ellipse cx="501.7" cy="152.3" rx="3.2" ry="1.8" fill="none" stroke="#141414" stroke-width="1.1"/>
<path d="M461.7 205.6 L461.0 206.1 L460.4 206.6 L459.8 207.2 L459.3 207.9 L458.8 208.7 L458.5 209.5 L458.2 210.5 L458.0 211.5 L457.8 212.5 L457.8 213.6 L457.8 214.8 L457.9 216.0 L458.1 217.2 L458.4 218.4 L458.7 219.6 L459.2 220.8 L459.7 222.0 L460.2 223.2 L460.8 224.4 L461.5 225.5 L462.3 226.5 L463.0 227.5 L463.9 228.5 L464.7 229.3 L465.6 230.1 L466.5 230.8 L467.5 231.4 L468.4 232.0 L469.3 232.4 L470.3 232.7 L471.2 232.9 L472.1 233.0 L472.9 233.0 L473.8 232.9 L474.6 232.7 L475.3 232.4 L510.1 214.7 L510.8 214.2 L511.4 213.7 L512.0 213.1 L512.5 212.4 L512.9 211.6 L513.3 210.8 L513.6 209.8 L513.8 208.8 L513.9 207.8 L514.0 206.7 L513.9 205.5 L513.8 204.3 L513.6 203.1 L513.4 201.9 L513.0 200.7 L512.6 199.5 L512.1 198.3 L511.5 197.1 L510.9 195.9 L510.2 194.8 L509.5 193.8 L508.7 192.8 L507.9 191.8 L507.0 191.0 L506.1 190.2 L505.2 189.5 L504.3 188.9 L503.4 188.3 L502.4 187.9 L501.5 187.6 L500.6 187.4 L499.7 187.3 L498.8 187.3 L498.0 187.4 L497.2 187.6 L496.4 187.9Z" fill="#f8f8f8" stroke="#141414" stroke-width="2.08" stroke-linejoin="round" stroke-linecap="round" />
<path d="M475.3 232.4 L476.0 231.9 L476.6 231.4 L477.2 230.8 L477.7 230.1 L478.2 229.3 L478.5 228.5 L478.8 227.5 L479.0 226.5 L479.2 225.5 L479.2 224.4 L479.2 223.2 L479.1 222.0 L478.9 220.8 L478.6 219.6 L478.3 218.4 L477.8 217.2 L477.3 216.0 L476.8 214.8 L476.2 213.6 L475.5 212.5 L474.7 211.5 L474.0 210.5 L473.1 209.5 L472.3 208.7 L471.4 207.9 L470.5 207.2 L469.5 206.6 L468.6 206.0 L467.7 205.6 L466.7 205.3 L465.8 205.1 L464.9 205.0 L464.1 205.0 L463.2 205.1 L462.4 205.3 L461.7 205.6" fill="none" stroke="#141414" stroke-width="2.08" stroke-linejoin="round" stroke-linecap="round" />
<path d="M475.3 232.4 L476.0 231.9 L476.6 231.4 L477.2 230.8 L477.7 230.1 L478.2 229.3 L478.5 228.5 L478.8 227.5 L479.0 226.5 L479.2 225.5 L479.2 224.4 L479.2 223.2 L479.1 222.0 L478.9 220.8 L478.6 219.6 L478.3 218.4 L477.8 217.2 L477.3 216.0 L476.8 214.8 L476.2 213.6 L475.5 212.5 L474.7 211.5 L474.0 210.5 L473.1 209.5 L472.3 208.7 L471.4 207.9 L470.5 207.2 L469.5 206.6 L468.6 206.0 L467.7 205.6 L466.7 205.3 L465.8 205.1 L464.9 205.0 L464.1 205.0 L463.2 205.1 L462.4 205.3 L461.7 205.6 L461.0 206.1 L460.4 206.6 L459.8 207.2 L459.3 207.9 L458.8 208.7 L458.5 209.5 L458.2 210.5 L458.0 211.5 L457.8 212.5 L457.8 213.6 L457.8 214.8 L457.9 216.0 L458.1 217.2 L458.4 218.4 L458.7 219.6 L459.2 220.8 L459.7 222.0 L460.2 223.2 L460.8 224.4 L461.5 225.5 L462.3 226.5 L463.0 227.5 L463.9 228.5 L464.7 229.3 L465.6 230.1 L466.5 230.8 L467.5 231.4 L468.4 232.0 L469.3 232.4 L470.3 232.7 L471.2 232.9 L472.1 233.0 L472.9 233.0 L473.8 232.9 L474.6 232.7 L475.3 232.4Z" fill="#f8f8f8" stroke="#141414" stroke-width="2.08" stroke-linejoin="round" stroke-linecap="round" />
<ellipse cx="500.5" cy="190.5" rx="3" ry="2" fill="none" stroke="#141414" stroke-width="1.2" transform="rotate(-20 500.5 190.5)"/>
<path d="M358 281 L452 229.5" stroke="#141414" stroke-width="2.1" stroke-dasharray="17 5.5" fill="none"/>
<path d="M497 205 L545 178.5" stroke="#141414" stroke-width="1.2" stroke-dasharray="12 4 3 4" fill="none" opacity="0"/>
<g transform="rotate(-18 226 138.2)" fill="none" stroke-linecap="round" stroke-linejoin="round"><path d="M230.3 143.0 L229.8 143.6 L229.3 144.2 L228.7 144.7 L228.1 145.1 L227.4 145.3 L226.8 145.5 L226.1 145.6 L225.4 145.6 L224.7 145.4 L224.1 145.2 L223.5 144.8 L222.9 144.3 L222.3 143.8 L221.8 143.2 L221.4 142.4 L221.1 141.7 L220.8 140.9 L220.6 140.0 L220.4 139.1 L220.4 138.2 L220.4 137.3 L220.6 136.4 L220.8 135.5 L221.1 134.7 L221.4 134.0 L221.8 133.2 L222.3 132.6 L222.9 132.1 L223.5 131.6 L224.1 131.2 L224.7 131.0 L225.4 130.8 L226.1 130.8 L226.8 130.9 L227.4 131.1 L228.1 131.3 L228.7 131.7 L229.3 132.2 L229.8 132.8 L230.3 133.4" stroke="#141414" stroke-width="6.8"/><path d="M230.3 143.0 L229.8 143.6 L229.3 144.2 L228.7 144.7 L228.1 145.1 L227.4 145.3 L226.8 145.5 L226.1 145.6 L225.4 145.6 L224.7 145.4 L224.1 145.2 L223.5 144.8 L222.9 144.3 L222.3 143.8 L221.8 143.2 L221.4 142.4 L221.1 141.7 L220.8 140.9 L220.6 140.0 L220.4 139.1 L220.4 138.2 L220.4 137.3 L220.6 136.4 L220.8 135.5 L221.1 134.7 L221.4 134.0 L221.8 133.2 L222.3 132.6 L222.9 132.1 L223.5 131.6 L224.1 131.2 L224.7 131.0 L225.4 130.8 L226.1 130.8 L226.8 130.9 L227.4 131.1 L228.1 131.3 L228.7 131.7 L229.3 132.2 L229.8 132.8 L230.3 133.4" stroke="#f8f8f8" stroke-width="1.7"/></g>
<path d="M237.1 124.9 L251.9 116.4 L257.1 125.6 L242.4 134.1 L239.6 133.3 L236.4 127.7Z" fill="#f8f8f8" stroke="#141414" stroke-width="1.95" stroke-linejoin="round" stroke-linecap="round" />
<path d="M239.4 128.8 L243.6 132.5" fill="none" stroke="#141414" stroke-width="1.3" stroke-linejoin="round" stroke-linecap="round" />
<path d="M242.1 127.2 L246.3 130.9" fill="none" stroke="#141414" stroke-width="1.3" stroke-linejoin="round" stroke-linecap="round" />
<path d="M244.7 125.7 L248.9 129.4" fill="none" stroke="#141414" stroke-width="1.3" stroke-linejoin="round" stroke-linecap="round" />
<path d="M247.4 124.2 L251.6 127.9" fill="none" stroke="#141414" stroke-width="1.3" stroke-linejoin="round" stroke-linecap="round" />
<path d="M250.0 122.7 L254.2 126.4" fill="none" stroke="#141414" stroke-width="1.3" stroke-linejoin="round" stroke-linecap="round" />
<path d="M248.6 112.8 L250.7 110.5 L258.9 108.6 L264.3 111.9 L268.0 118.4 L267.7 123.8 L261.7 129.5 L258.6 130.2Z" fill="#f8f8f8" stroke="#141414" stroke-width="2.21" stroke-linejoin="round" stroke-linecap="round" />
<path d="M251.9 111.5 L257.5 119.3 L261.4 128.0" fill="none" stroke="#141414" stroke-width="1.43" stroke-linejoin="round" stroke-linecap="round" />
<path d="M257.0 118.4 L264.8 113.9" fill="none" stroke="#141414" stroke-width="1.3" stroke-linejoin="round" stroke-linecap="round" />
<g transform="rotate(-18 362 262.5)" fill="none" stroke-linecap="round" stroke-linejoin="round"><path d="M366.4 267.1 L366.0 267.8 L365.4 268.3 L364.8 268.8 L364.2 269.2 L363.5 269.5 L362.8 269.6 L362.1 269.7 L361.4 269.7 L360.7 269.5 L360.0 269.3 L359.4 268.9 L358.8 268.5 L358.2 267.9 L357.7 267.3 L357.2 266.6 L356.9 265.9 L356.6 265.1 L356.4 264.2 L356.2 263.4 L356.2 262.5 L356.2 261.6 L356.4 260.8 L356.6 259.9 L356.9 259.1 L357.2 258.4 L357.7 257.7 L358.2 257.1 L358.8 256.5 L359.4 256.1 L360.0 255.7 L360.7 255.5 L361.4 255.3 L362.1 255.3 L362.8 255.4 L363.5 255.5 L364.2 255.8 L364.8 256.2 L365.4 256.7 L366.0 257.2 L366.4 257.9" stroke="#141414" stroke-width="6.8"/><path d="M366.4 267.1 L366.0 267.8 L365.4 268.3 L364.8 268.8 L364.2 269.2 L363.5 269.5 L362.8 269.6 L362.1 269.7 L361.4 269.7 L360.7 269.5 L360.0 269.3 L359.4 268.9 L358.8 268.5 L358.2 267.9 L357.7 267.3 L357.2 266.6 L356.9 265.9 L356.6 265.1 L356.4 264.2 L356.2 263.4 L356.2 262.5 L356.2 261.6 L356.4 260.8 L356.6 259.9 L356.9 259.1 L357.2 258.4 L357.7 257.7 L358.2 257.1 L358.8 256.5 L359.4 256.1 L360.0 255.7 L360.7 255.5 L361.4 255.3 L362.1 255.3 L362.8 255.4 L363.5 255.5 L364.2 255.8 L364.8 256.2 L365.4 256.7 L366.0 257.2 L366.4 257.9" stroke="#f8f8f8" stroke-width="1.7"/></g>
<path d="M373.5 250.3 L417.7 226.3 L422.3 234.7 L378.0 258.8 L375.4 258.0 L372.6 253.0Z" fill="#f8f8f8" stroke="#141414" stroke-width="1.95" stroke-linejoin="round" stroke-linecap="round" />
<path d="M375.5 253.9 L379.4 257.2" fill="none" stroke="#141414" stroke-width="1.3" stroke-linejoin="round" stroke-linecap="round" />
<path d="M378.6 252.2 L382.5 255.5" fill="none" stroke="#141414" stroke-width="1.3" stroke-linejoin="round" stroke-linecap="round" />
<path d="M381.7 250.5 L385.5 253.9" fill="none" stroke="#141414" stroke-width="1.3" stroke-linejoin="round" stroke-linecap="round" />
<path d="M384.7 248.8 L388.6 252.2" fill="none" stroke="#141414" stroke-width="1.3" stroke-linejoin="round" stroke-linecap="round" />
<path d="M387.8 247.2 L391.7 250.5" fill="none" stroke="#141414" stroke-width="1.3" stroke-linejoin="round" stroke-linecap="round" />
<path d="M390.9 245.5 L394.8 248.9" fill="none" stroke="#141414" stroke-width="1.3" stroke-linejoin="round" stroke-linecap="round" />
<path d="M394.0 243.8 L397.9 247.2" fill="none" stroke="#141414" stroke-width="1.3" stroke-linejoin="round" stroke-linecap="round" />
<path d="M397.1 242.1 L400.9 245.5" fill="none" stroke="#141414" stroke-width="1.3" stroke-linejoin="round" stroke-linecap="round" />
<path d="M400.1 240.5 L404.0 243.8" fill="none" stroke="#141414" stroke-width="1.3" stroke-linejoin="round" stroke-linecap="round" />
<path d="M403.2 238.8 L407.1 242.2" fill="none" stroke="#141414" stroke-width="1.3" stroke-linejoin="round" stroke-linecap="round" />
<path d="M414.3 222.2 L416.5 219.9 L425.6 217.8 L430.9 221.2 L434.4 227.8 L434.0 233.2 L427.0 239.2 L423.9 239.8Z" fill="#f8f8f8" stroke="#141414" stroke-width="2.21" stroke-linejoin="round" stroke-linecap="round" />
<path d="M417.7 221.0 L423.1 228.8 L426.7 237.7" fill="none" stroke="#141414" stroke-width="1.43" stroke-linejoin="round" stroke-linecap="round" />
<path d="M422.6 228.0 L431.4 223.2" fill="none" stroke="#141414" stroke-width="1.3" stroke-linejoin="round" stroke-linecap="round" />
<path d="M316.0 258.0 L322.4 255.0 L342.6 259.5 L350.6 267.0 L356.0 280.0 L357.4 298.0 L348.0 323.0 L334.5 335.4 L315.7 345.0 L299.6 353.5 L289.0 357.5 L281.0 361.8 L273.0 360.5 L266.5 357.5 L258.0 361.0 L250.0 300.0 L290.0 250.0Z" fill="#f8f8f8" stroke="#141414" stroke-width="2.21" stroke-linejoin="round" stroke-linecap="round" />
<path d="M317.5 262.0 L319.7 280.0 L350.6 267.5" fill="none" stroke="#141414" stroke-width="1.95" stroke-linejoin="round" stroke-linecap="round" />
<path d="M319.7 280.0 L325.0 287.0 L324.0 329.0" fill="none" stroke="#141414" stroke-width="1.69" stroke-linejoin="round" stroke-linecap="round" />
<path d="M330.0 316.0 L336.0 313.0 L339.0 317.0 L344.0 311.0 L342.0 320.0 L338.0 324.0 L336.0 330.0 L331.0 331.0" fill="none" stroke="#141414" stroke-width="1.43" stroke-linejoin="round" stroke-linecap="round" />
<path d="M330.0 316.0 L331.0 331.0" fill="none" stroke="#141414" stroke-width="1.43" stroke-linejoin="round" stroke-linecap="round" />
<path d="M245.2 359.5 L252.1 361.4 L258.9 362.3 L265.6 362.5 L272.0 361.9 L278.1 360.4 L283.9 358.1 L289.3 355.1 L294.3 351.3 L298.9 346.7 L303.0 341.4 L306.5 335.5 L309.5 329.0 L311.9 321.9 L313.8 314.3 L315.0 306.2 L315.7 297.8 L315.7 289.0 L315.1 280.0 L313.9 270.7 L312.1 261.4 L309.7 252.0 L306.7 242.6 L303.2 233.3 L299.1 224.2 L294.6 215.3 L289.6 206.7 L284.2 198.4 L278.5 190.6 L272.4 183.3 L266.0 176.5 L259.3 170.4 L252.5 164.8 L245.6 160.0 L238.5 155.8 L231.5 152.5 L224.4 149.9 L217.5 148.0 L210.7 147.1 L204.0 146.9 L197.6 147.5 L191.5 149.0 L185.7 151.3 L180.3 154.3 L175.3 158.1 L170.7 162.7 L166.6 168.0 L163.1 173.9 L160.1 180.4Z" fill="#f8f8f8" stroke="#141414" stroke-width="2.34" stroke-linejoin="round" stroke-linecap="round" />
<path d="M278.5 360.7 L283.9 357.7 L288.9 353.9 L293.5 349.3 L297.6 344.0 L301.1 338.1 L304.1 331.6 L306.5 324.5 L308.4 316.9 L309.6 308.8 L310.3 300.4 L310.3 291.6 L309.7 282.6 L308.5 273.3 L306.7 264.0 L304.3 254.6 L301.3 245.2 L297.8 235.9 L293.7 226.8 L289.2 217.9 L284.2 209.3 L278.8 201.0 L273.1 193.2 L267.0 185.9 L260.6 179.1 L253.9 173.0 L247.1 167.4 L240.2 162.6 L233.1 158.4 L226.1 155.1 L219.0 152.5 L212.1 150.6 L205.3 149.7 L198.6 149.5 L192.2 150.1 L186.1 151.6 L180.3 153.9 L174.9 156.9 L169.9 160.7 L165.3 165.3 L161.2 170.6 L157.7 176.5 L154.7 183.0 L152.3 190.1 L150.4 197.7 L149.2 205.8 L148.5 214.2 L148.5 223.0 L149.1 232.0 L150.3 241.3 L152.1 250.6 L154.5 260.0 L157.5 269.4 L161.0 278.7 L165.1 287.8 L169.6 296.7 L174.6 305.3 L180.0 313.6 L185.7 321.4 L191.8 328.7 L198.2 335.5 L204.9 341.6 L211.7 347.2 L218.6 352.0 L225.7 356.2 L232.7 359.5 L239.8 362.1 L246.7 364.0 L253.5 364.9 L260.2 365.1 L266.6 364.5 L272.7 363.0 L278.5 360.7Z" fill="#f8f8f8" stroke="#141414" stroke-width="2.34" stroke-linejoin="round" stroke-linecap="round" />
<path d="M193.9 148.3 L195.5 145.0 L198.5 143.0 L203.0 144.5 L213.4 147.4" fill="#f8f8f8" stroke="#141414" stroke-width="2.21" stroke-linejoin="round" stroke-linecap="round" />
<path d="M276.1 187.6 L265.0 182.5 L268.5 183.0 L284.2 198.4" fill="#f8f8f8" stroke="#141414" stroke-width="2.08" stroke-linejoin="round" stroke-linecap="round" />
<path d="M199.9 163.6 L200.1 163.5 L200.3 163.3 L200.5 163.1 L200.7 162.8 L200.9 162.6 L201.0 162.3 L201.1 161.9 L201.2 161.6 L201.2 161.2 L201.2 160.8 L201.2 160.4 L201.2 160.0 L201.1 159.6 L201.0 159.2 L200.9 158.8 L200.8 158.3 L200.6 157.9 L200.4 157.5 L200.2 157.1 L199.9 156.7 L199.7 156.4 L199.4 156.0 L199.1 155.7 L198.8 155.4 L198.5 155.1 L198.2 154.9 L197.9 154.7 L197.6 154.5 L197.2 154.3 L196.9 154.2 L196.6 154.2 L196.3 154.1 L196.0 154.1 L195.7 154.2 L195.4 154.2 L195.2 154.3 L194.9 154.5 L194.7 154.7 L194.5 154.9 L194.3 155.1 L194.2 155.4 L194.0 155.7 L193.9 156.0 L193.9 156.4 L193.8 156.7 L193.8 157.1 L193.8 157.5 L193.8 157.9 L193.9 158.3 L194.0 158.8 L194.1 159.2 L194.3 159.6 L194.4 160.0 L194.6 160.4 L194.9 160.8 L195.1 161.2 L195.4 161.6 L195.6 161.9 L195.9 162.3 L196.2 162.6 L196.5 162.8 L196.8 163.1 L197.2 163.3 L197.5 163.5 L197.8 163.6 L198.1 163.7 L198.4 163.8 L198.8 163.8 L199.1 163.8 L199.3 163.8 L199.6 163.7 L199.9 163.6Z" fill="#f8f8f8" stroke="#141414" stroke-width="1.95" stroke-linejoin="round" stroke-linecap="round" />
<path d="M198.1 154.8 L197.9 154.7 L197.6 154.7 L197.4 154.7 L197.2 154.7 L197.0 154.8 L196.8 154.9 L196.6 155.0 L196.4 155.1 L196.3 155.3 L196.1 155.5 L196.0 155.7 L195.9 155.9 L195.8 156.2 L195.8 156.4 L195.7 156.7 L195.7 157.0 L195.7 157.3 L195.8 157.6 L195.8 157.9 L195.9 158.3 L196.0 158.6 L196.1 158.9 L196.2 159.2 L196.4 159.6 L196.5 159.9 L196.7 160.2 L196.9 160.4 L197.1 160.7 L197.3 161.0 L197.6 161.2 L197.8 161.4 L198.1 161.6 L198.3 161.7 L198.6 161.9 L198.8 162.0 L199.1 162.1" fill="none" stroke="#141414" stroke-width="1.3" stroke-linejoin="round" stroke-linecap="round" />
<path d="M168.8 178.4 L169.0 178.3 L169.3 178.1 L169.5 177.9 L169.6 177.6 L169.8 177.4 L169.9 177.1 L170.0 176.7 L170.1 176.4 L170.1 176.0 L170.2 175.6 L170.1 175.2 L170.1 174.8 L170.0 174.4 L169.9 174.0 L169.8 173.6 L169.7 173.2 L169.5 172.7 L169.3 172.3 L169.1 171.9 L168.9 171.5 L168.6 171.2 L168.3 170.8 L168.0 170.5 L167.7 170.2 L167.4 169.9 L167.1 169.7 L166.8 169.5 L166.5 169.3 L166.1 169.2 L165.8 169.0 L165.5 169.0 L165.2 168.9 L164.9 168.9 L164.6 169.0 L164.3 169.0 L164.1 169.2 L163.8 169.3 L163.6 169.5 L163.4 169.7 L163.2 169.9 L163.1 170.2 L163.0 170.5 L162.9 170.8 L162.8 171.2 L162.7 171.5 L162.7 171.9 L162.7 172.3 L162.8 172.7 L162.8 173.2 L162.9 173.6 L163.0 174.0 L163.2 174.4 L163.4 174.8 L163.6 175.3 L163.8 175.7 L164.0 176.0 L164.3 176.4 L164.5 176.8 L164.8 177.1 L165.1 177.4 L165.4 177.6 L165.8 177.9 L166.1 178.1 L166.4 178.3 L166.7 178.4 L167.0 178.5 L167.4 178.6 L167.7 178.6 L168.0 178.6 L168.3 178.6 L168.5 178.5 L168.8 178.4Z" fill="#f8f8f8" stroke="#141414" stroke-width="1.95" stroke-linejoin="round" stroke-linecap="round" />
<path d="M167.0 169.6 L166.8 169.5 L166.6 169.5 L166.3 169.5 L166.1 169.5 L165.9 169.6 L165.7 169.7 L165.5 169.8 L165.3 169.9 L165.2 170.1 L165.0 170.3 L164.9 170.5 L164.8 170.7 L164.7 171.0 L164.7 171.2 L164.7 171.5 L164.6 171.8 L164.7 172.1 L164.7 172.4 L164.7 172.8 L164.8 173.1 L164.9 173.4 L165.0 173.7 L165.1 174.1 L165.3 174.4 L165.5 174.7 L165.6 175.0 L165.8 175.3 L166.0 175.5 L166.3 175.8 L166.5 176.0 L166.7 176.2 L167.0 176.4 L167.2 176.6 L167.5 176.7 L167.7 176.8 L168.0 176.9" fill="none" stroke="#141414" stroke-width="1.3" stroke-linejoin="round" stroke-linecap="round" />
<path d="M271.9 205.6 L272.1 205.4 L272.3 205.3 L272.5 205.1 L272.7 204.8 L272.9 204.5 L273.0 204.2 L273.1 203.9 L273.2 203.6 L273.2 203.2 L273.2 202.8 L273.2 202.4 L273.2 202.0 L273.1 201.6 L273.0 201.2 L272.9 200.7 L272.8 200.3 L272.6 199.9 L272.4 199.5 L272.2 199.1 L271.9 198.7 L271.7 198.3 L271.4 198.0 L271.1 197.7 L270.8 197.4 L270.5 197.1 L270.2 196.9 L269.9 196.6 L269.6 196.5 L269.2 196.3 L268.9 196.2 L268.6 196.1 L268.3 196.1 L268.0 196.1 L267.7 196.1 L267.4 196.2 L267.2 196.3 L266.9 196.5 L266.7 196.6 L266.5 196.9 L266.3 197.1 L266.2 197.4 L266.0 197.7 L265.9 198.0 L265.9 198.3 L265.8 198.7 L265.8 199.1 L265.8 199.5 L265.9 199.9 L265.9 200.3 L266.0 200.7 L266.1 201.2 L266.3 201.6 L266.5 202.0 L266.7 202.4 L266.9 202.8 L267.1 203.2 L267.4 203.6 L267.6 203.9 L267.9 204.2 L268.2 204.5 L268.5 204.8 L268.8 205.1 L269.2 205.3 L269.5 205.4 L269.8 205.6 L270.1 205.7 L270.4 205.8 L270.8 205.8 L271.1 205.8 L271.3 205.8 L271.6 205.7 L271.9 205.6Z" fill="#f8f8f8" stroke="#141414" stroke-width="1.95" stroke-linejoin="round" stroke-linecap="round" />
<path d="M270.1 196.8 L269.9 196.7 L269.6 196.7 L269.4 196.7 L269.2 196.7 L269.0 196.8 L268.8 196.8 L268.6 197.0 L268.4 197.1 L268.3 197.3 L268.1 197.4 L268.0 197.7 L267.9 197.9 L267.8 198.1 L267.8 198.4 L267.7 198.7 L267.7 199.0 L267.7 199.3 L267.8 199.6 L267.8 199.9 L267.9 200.2 L268.0 200.6 L268.1 200.9 L268.2 201.2 L268.4 201.5 L268.5 201.8 L268.7 202.1 L268.9 202.4 L269.1 202.7 L269.4 202.9 L269.6 203.2 L269.8 203.4 L270.1 203.6 L270.3 203.7 L270.6 203.9 L270.8 204.0 L271.1 204.1" fill="none" stroke="#141414" stroke-width="1.3" stroke-linejoin="round" stroke-linecap="round" />
<path d="M306.1 303.4 L306.4 303.2 L306.6 303.1 L306.8 302.8 L307.0 302.6 L307.1 302.3 L307.2 302.0 L307.3 301.7 L307.4 301.4 L307.5 301.0 L307.5 300.6 L307.5 300.2 L307.4 299.8 L307.4 299.4 L307.3 299.0 L307.1 298.5 L307.0 298.1 L306.8 297.7 L306.6 297.3 L306.4 296.9 L306.2 296.5 L305.9 296.1 L305.7 295.8 L305.4 295.5 L305.1 295.2 L304.8 294.9 L304.4 294.6 L304.1 294.4 L303.8 294.3 L303.5 294.1 L303.2 294.0 L302.8 293.9 L302.5 293.9 L302.2 293.9 L301.9 293.9 L301.7 294.0 L301.4 294.1 L301.2 294.3 L300.9 294.4 L300.7 294.7 L300.6 294.9 L300.4 295.2 L300.3 295.5 L300.2 295.8 L300.1 296.1 L300.1 296.5 L300.0 296.9 L300.1 297.3 L300.1 297.7 L300.2 298.1 L300.3 298.5 L300.4 299.0 L300.5 299.4 L300.7 299.8 L300.9 300.2 L301.1 300.6 L301.3 301.0 L301.6 301.4 L301.9 301.7 L302.2 302.0 L302.5 302.3 L302.8 302.6 L303.1 302.8 L303.4 303.1 L303.7 303.2 L304.0 303.4 L304.4 303.5 L304.7 303.6 L305.0 303.6 L305.3 303.6 L305.6 303.6 L305.9 303.5 L306.1 303.4Z" fill="#f8f8f8" stroke="#141414" stroke-width="1.95" stroke-linejoin="round" stroke-linecap="round" />
<path d="M304.4 294.6 L304.1 294.5 L303.9 294.5 L303.6 294.5 L303.4 294.5 L303.2 294.6 L303.0 294.6 L302.8 294.8 L302.7 294.9 L302.5 295.1 L302.4 295.2 L302.3 295.5 L302.2 295.7 L302.1 295.9 L302.0 296.2 L302.0 296.5 L302.0 296.8 L302.0 297.1 L302.0 297.4 L302.1 297.7 L302.1 298.0 L302.2 298.4 L302.3 298.7 L302.5 299.0 L302.6 299.3 L302.8 299.6 L303.0 299.9 L303.2 300.2 L303.4 300.5 L303.6 300.7 L303.8 301.0 L304.1 301.2 L304.3 301.4 L304.6 301.5 L304.8 301.7 L305.1 301.8 L305.3 301.9" fill="none" stroke="#141414" stroke-width="1.3" stroke-linejoin="round" stroke-linecap="round" />
<path d="M176.0 175.5 L171.6 178.1 L167.6 181.4 L164.0 185.4 L160.8 189.9 L158.0 194.9 L155.8 200.5 L154.0 206.6 L152.7 213.1 L152.0 219.9 L151.8 227.1 L152.1 234.6 L152.9 242.3 L154.2 250.1 L156.1 258.0 L158.4 266.0 L161.2 273.9 L164.4 281.8 L168.1 289.5 L172.2 297.0 L176.6 304.3 L181.4 311.2 L186.5 317.7 L191.8 323.9 L197.4 329.6 L203.1 334.8 L209.0 339.4 L214.9 343.4 L220.9 346.8 L226.9 349.6 L232.8 351.8 L238.7 353.2 L244.4 354.0 L249.9 354.1 L255.2 353.4 L260.3 352.1 L265.0 350.1 L275.0 344.9 L279.4 342.3 L283.4 339.0 L287.0 335.0 L290.2 330.5 L293.0 325.5 L295.2 319.9 L297.0 313.8 L298.3 307.3 L299.0 300.5 L299.2 293.3 L298.9 285.8 L298.1 278.1 L296.8 270.3 L294.9 262.4 L292.6 254.4 L289.8 246.5 L286.6 238.6 L282.9 230.9 L278.8 223.4 L274.4 216.1 L269.6 209.2 L264.5 202.7 L259.2 196.5 L253.6 190.8 L247.9 185.6 L242.0 181.0 L236.1 177.0 L230.1 173.6 L224.1 170.8 L218.2 168.6 L212.3 167.2 L206.6 166.4 L201.1 166.3 L195.8 167.0 L190.7 168.3 L186.0 170.3Z" fill="#f8f8f8" stroke="#f8f8f8" stroke-width="0.1" stroke-linejoin="round" stroke-linecap="round" />
<path d="M263.1 348.6 L268.4 347.5 L273.3 345.7 L277.9 343.2 L282.2 340.1 L286.0 336.3 L289.4 331.8 L292.3 326.8 L294.7 321.3 L296.6 315.2 L298.0 308.7 L298.9 301.7 L299.2 294.4 L299.0 286.9 L298.2 279.1 L296.9 271.1 L295.1 263.0 L292.8 254.9 L289.9 246.8 L286.6 238.8 L282.9 230.9 L278.7 223.2 L274.2 215.9 L269.3 208.8 L264.1 202.1 L258.6 195.9 L252.9 190.2 L247.1 185.0 L241.1 180.3 L235.0 176.3 L228.9 172.9 L222.8 170.2 L216.8 168.2 L210.8 166.9 L205.0 166.3 L199.5 166.5 L194.1 167.3 L189.1 168.9 L184.4 171.2 L180.0 174.1 L176.1 177.7" fill="none" stroke="#141414" stroke-width="1.95" stroke-linejoin="round" stroke-linecap="round" />
<path d="M265.0 350.1 L269.3 347.5 L273.2 344.2 L276.8 340.4 L279.9 335.9 L282.5 330.9 L284.7 325.3 L286.4 319.3 L287.6 312.9 L288.3 306.0 L288.4 298.9 L288.1 291.5 L287.2 283.8 L285.8 276.0 L284.0 268.1 L281.6 260.1 L278.8 252.2 L275.5 244.3 L271.8 236.6 L267.8 229.1 L263.3 221.9 L258.6 214.9 L253.5 208.4 L248.2 202.2 L242.7 196.5 L237.0 191.3 L231.2 186.6 L225.3 182.6 L219.4 179.1 L213.5 176.3 L207.6 174.1 L201.9 172.6 L196.3 171.8 L190.8 171.7 L185.6 172.3 L180.7 173.5 L176.0 175.5 L171.7 178.1 L167.8 181.4 L164.2 185.2 L161.1 189.7 L158.5 194.7 L156.3 200.3 L154.6 206.3 L153.4 212.7 L152.7 219.6 L152.6 226.7 L152.9 234.1 L153.8 241.8 L155.2 249.6 L157.0 257.5 L159.4 265.5 L162.2 273.4 L165.5 281.3 L169.2 289.0 L173.2 296.5 L177.7 303.7 L182.4 310.7 L187.5 317.2 L192.8 323.4 L198.3 329.1 L204.0 334.3 L209.8 339.0 L215.7 343.0 L221.6 346.5 L227.5 349.3 L233.4 351.5 L239.1 353.0 L244.7 353.8 L250.2 353.9 L255.4 353.3 L260.3 352.1 L265.0 350.1Z" fill="none" stroke="#141414" stroke-width="2.08" stroke-linejoin="round" stroke-linecap="round" />
<clipPath id="w0"><path d="M229.0 190.1 L223.4 186.5 L217.7 183.5 L212.0 181.2 L206.4 179.5 L200.9 178.4 L195.6 178.0 L190.5 178.3 L185.6 179.3 L181.0 180.9 L176.7 183.1 L191.9 210.7 L194.7 209.2 L197.7 208.2 L200.9 207.5 L204.2 207.4 L207.7 207.6 L211.3 208.3 L215.0 209.4 L218.7 211.0 L222.4 212.9 L226.1 215.3Z"/></clipPath>
<path d="M229.0 190.1 L223.4 186.5 L217.7 183.5 L212.0 181.2 L206.4 179.5 L200.9 178.4 L195.6 178.0 L190.5 178.3 L185.6 179.3 L181.0 180.9 L176.7 183.1 L191.9 210.7 L194.7 209.2 L197.7 208.2 L200.9 207.5 L204.2 207.4 L207.7 207.6 L211.3 208.3 L215.0 209.4 L218.7 211.0 L222.4 212.9 L226.1 215.3Z" fill="#f8f8f8" stroke="#141414" stroke-width="2.21" stroke-linejoin="round" stroke-linecap="round" />
<g clip-path="url(#w0)">
<path d="M233.0 188.1 L227.4 184.5 L221.7 181.5 L216.0 179.1 L210.4 177.4 L205.0 176.4 L199.6 176.0 L194.5 176.3 L189.6 177.2 L185.0 178.8 L180.7 181.1 L195.9 208.7 L198.7 207.2 L201.7 206.1 L204.9 205.5 L208.2 205.3 L211.7 205.6 L215.3 206.3 L219.0 207.4 L222.7 208.9 L226.4 210.9 L230.1 213.2Z" fill="none" stroke="#141414" stroke-width="1.56" stroke-linejoin="round" stroke-linecap="round" />
</g>
<clipPath id="w1"><path d="M281.6 279.3 L280.2 272.1 L278.4 264.7 L276.1 257.4 L273.4 250.1 L270.2 242.9 L266.7 235.9 L262.8 229.0 L258.5 222.5 L254.0 216.2 L249.2 210.3 L244.2 204.8 L239.0 199.8 L233.7 195.3 L229.4 217.3 L233.0 220.3 L236.5 223.7 L239.9 227.4 L243.1 231.4 L246.1 235.6 L249.0 240.0 L251.6 244.6 L254.0 249.4 L256.1 254.2 L258.0 259.2 L259.5 264.1 L260.8 269.1 L261.7 273.9Z"/></clipPath>
<path d="M281.6 279.3 L280.2 272.1 L278.4 264.7 L276.1 257.4 L273.4 250.1 L270.2 242.9 L266.7 235.9 L262.8 229.0 L258.5 222.5 L254.0 216.2 L249.2 210.3 L244.2 204.8 L239.0 199.8 L233.7 195.3 L229.4 217.3 L233.0 220.3 L236.5 223.7 L239.9 227.4 L243.1 231.4 L246.1 235.6 L249.0 240.0 L251.6 244.6 L254.0 249.4 L256.1 254.2 L258.0 259.2 L259.5 264.1 L260.8 269.1 L261.7 273.9Z" fill="#f8f8f8" stroke="#141414" stroke-width="2.21" stroke-linejoin="round" stroke-linecap="round" />
<g clip-path="url(#w1)">
<path d="M285.6 277.3 L284.2 270.0 L282.4 262.7 L280.1 255.4 L277.4 248.1 L274.2 240.9 L270.7 233.8 L266.8 227.0 L262.5 220.4 L258.0 214.2 L253.2 208.3 L248.2 202.8 L243.0 197.8 L237.7 193.2 L233.4 215.2 L237.0 218.3 L240.5 221.7 L243.9 225.4 L247.1 229.3 L250.2 233.6 L253.0 238.0 L255.6 242.6 L258.0 247.3 L260.1 252.2 L262.0 257.1 L263.5 262.1 L264.8 267.0 L265.7 271.9Z" fill="none" stroke="#141414" stroke-width="1.56" stroke-linejoin="round" stroke-linecap="round" />
</g>
<clipPath id="w2"><path d="M280.0 322.2 L281.3 318.6 L282.3 314.9 L283.1 310.9 L283.7 306.8 L284.1 302.5 L284.3 298.1 L284.3 293.6 L284.0 289.0 L264.5 280.9 L264.7 284.1 L264.7 287.3 L264.5 290.3 L264.3 293.3 L263.8 296.1 L263.3 298.8 L262.6 301.5 L261.7 303.9Z"/></clipPath>
<path d="M280.0 322.2 L281.3 318.6 L282.3 314.9 L283.1 310.9 L283.7 306.8 L284.1 302.5 L284.3 298.1 L284.3 293.6 L284.0 289.0 L264.5 280.9 L264.7 284.1 L264.7 287.3 L264.5 290.3 L264.3 293.3 L263.8 296.1 L263.3 298.8 L262.6 301.5 L261.7 303.9Z" fill="#f8f8f8" stroke="#141414" stroke-width="2.21" stroke-linejoin="round" stroke-linecap="round" />
<g clip-path="url(#w2)">
<path d="M284.0 320.2 L285.3 316.6 L286.3 312.8 L287.1 308.9 L287.7 304.7 L288.1 300.5 L288.3 296.1 L288.3 291.6 L288.1 287.0 L268.5 278.9 L268.7 282.1 L268.7 285.2 L268.6 288.3 L268.3 291.2 L267.9 294.1 L267.3 296.8 L266.6 299.4 L265.7 301.9Z" fill="none" stroke="#141414" stroke-width="1.56" stroke-linejoin="round" stroke-linecap="round" />
</g>
<clipPath id="w3"><path d="M199.6 327.2 L205.2 332.1 L210.9 336.4 L216.7 340.2 L222.5 343.4 L228.3 345.9 L234.0 347.7 L239.6 348.9 L245.1 349.4 L250.4 349.2 L255.4 348.4 L246.8 327.2 L243.0 327.9 L239.0 328.0 L234.9 327.6 L230.7 326.7 L226.3 325.3 L222.0 323.4 L217.6 321.1 L213.3 318.2 L209.0 315.0 L204.8 311.3Z"/></clipPath>
<path d="M199.6 327.2 L205.2 332.1 L210.9 336.4 L216.7 340.2 L222.5 343.4 L228.3 345.9 L234.0 347.7 L239.6 348.9 L245.1 349.4 L250.4 349.2 L255.4 348.4 L246.8 327.2 L243.0 327.9 L239.0 328.0 L234.9 327.6 L230.7 326.7 L226.3 325.3 L222.0 323.4 L217.6 321.1 L213.3 318.2 L209.0 315.0 L204.8 311.3Z" fill="#f8f8f8" stroke="#141414" stroke-width="2.21" stroke-linejoin="round" stroke-linecap="round" />
<g clip-path="url(#w3)">
<path d="M203.6 325.1 L209.2 330.0 L214.9 334.4 L220.7 338.2 L226.5 341.3 L232.3 343.8 L238.0 345.7 L243.6 346.9 L249.1 347.4 L254.4 347.2 L259.4 346.3 L250.8 325.2 L247.0 325.8 L243.0 326.0 L238.9 325.6 L234.7 324.7 L230.4 323.3 L226.0 321.4 L221.6 319.0 L217.3 316.2 L213.0 312.9 L208.8 309.2Z" fill="none" stroke="#141414" stroke-width="1.56" stroke-linejoin="round" stroke-linecap="round" />
</g>
<clipPath id="w4"><path d="M165.3 269.3 L168.1 276.7 L171.4 283.9 L175.0 291.0 L179.0 297.8 L183.3 304.4 L188.0 310.7 L192.9 316.5 L198.0 321.9 L203.8 306.7 L200.0 302.6 L196.4 298.3 L192.9 293.7 L189.7 288.8 L186.8 283.7 L184.1 278.5 L181.7 273.1 L179.6 267.6Z"/></clipPath>
<path d="M165.3 269.3 L168.1 276.7 L171.4 283.9 L175.0 291.0 L179.0 297.8 L183.3 304.4 L188.0 310.7 L192.9 316.5 L198.0 321.9 L203.8 306.7 L200.0 302.6 L196.4 298.3 L192.9 293.7 L189.7 288.8 L186.8 283.7 L184.1 278.5 L181.7 273.1 L179.6 267.6Z" fill="#f8f8f8" stroke="#141414" stroke-width="2.21" stroke-linejoin="round" stroke-linecap="round" />
<g clip-path="url(#w4)">
<path d="M169.3 267.3 L172.1 274.6 L175.4 281.9 L179.0 288.9 L183.0 295.8 L187.3 302.4 L192.0 308.6 L196.9 314.5 L202.0 319.9 L207.8 304.6 L204.0 300.6 L200.4 296.2 L197.0 291.6 L193.7 286.7 L190.8 281.7 L188.1 276.4 L185.7 271.0 L183.6 265.6Z" fill="none" stroke="#141414" stroke-width="1.56" stroke-linejoin="round" stroke-linecap="round" />
</g>
<clipPath id="w5"><path d="M174.6 189.6 L171.2 193.0 L168.2 196.9 L165.7 201.3 L163.5 206.1 L161.8 211.4 L160.6 217.2 L159.8 223.2 L159.5 229.6 L159.6 236.2 L160.3 243.0 L161.4 250.0 L162.9 257.1 L164.9 264.2 L182.2 263.8 L180.8 258.9 L179.7 254.0 L179.0 249.2 L178.5 244.5 L178.4 239.9 L178.6 235.5 L179.2 231.3 L180.0 227.4 L181.2 223.7 L182.7 220.4 L184.5 217.3 L186.5 214.7 L188.8 212.3Z"/></clipPath>
<path d="M174.6 189.6 L171.2 193.0 L168.2 196.9 L165.7 201.3 L163.5 206.1 L161.8 211.4 L160.6 217.2 L159.8 223.2 L159.5 229.6 L159.6 236.2 L160.3 243.0 L161.4 250.0 L162.9 257.1 L164.9 264.2 L182.2 263.8 L180.8 258.9 L179.7 254.0 L179.0 249.2 L178.5 244.5 L178.4 239.9 L178.6 235.5 L179.2 231.3 L180.0 227.4 L181.2 223.7 L182.7 220.4 L184.5 217.3 L186.5 214.7 L188.8 212.3Z" fill="#f8f8f8" stroke="#141414" stroke-width="2.21" stroke-linejoin="round" stroke-linecap="round" />
<g clip-path="url(#w5)">
<path d="M178.6 187.6 L175.2 190.9 L172.3 194.8 L169.7 199.2 L167.5 204.1 L165.8 209.4 L164.6 215.1 L163.8 221.2 L163.5 227.5 L163.7 234.2 L164.3 241.0 L165.4 248.0 L166.9 255.0 L168.9 262.2 L186.2 261.7 L184.8 256.8 L183.7 251.9 L183.0 247.1 L182.5 242.4 L182.4 237.8 L182.7 233.5 L183.2 229.3 L184.1 225.3 L185.2 221.7 L186.7 218.3 L188.5 215.3 L190.5 212.6 L192.8 210.3Z" fill="none" stroke="#141414" stroke-width="2.6" stroke-linejoin="round" stroke-linecap="round" />
</g>
<path d="M261.7 321.8 L268.0 320.3 L274.7 323.2 L279.0 328.0 L282.0 334.0 L287.5 336.5 L283.4 341.3 L278.0 345.0 L273.3 347.0 L267.5 342.7 L262.8 335.0 L261.3 327.0Z" fill="#f8f8f8" stroke="#141414" stroke-width="2.21" stroke-linejoin="round" stroke-linecap="round" />
<path d="M261.7 321.8 L268.0 320.3 L274.7 323.2 L279.0 328.0 L280.5 332.0 L276.0 328.5 L270.0 325.0 L264.0 324.3Z" fill="#161616" stroke="#141414" stroke-width="1.04" stroke-linejoin="round" stroke-linecap="round" />
<path d="M280.5 332.0 L283.0 338.0 L287.5 336.5" fill="none" stroke="#141414" stroke-width="1.43" stroke-linejoin="round" stroke-linecap="round" />
<path d="M244.1 309.1 L246.4 307.7 L248.6 306.0 L250.5 303.9 L252.2 301.5 L253.6 298.8 L254.8 295.8 L255.8 292.6 L256.5 289.2 L256.9 285.5 L257.0 281.7 L256.8 277.8 L256.4 273.7 L255.7 269.5 L254.7 265.3 L253.5 261.1 L252.0 256.9 L250.3 252.7 L248.3 248.6 L246.1 244.7 L243.8 240.8 L241.2 237.1 L238.5 233.6 L235.7 230.4 L232.8 227.4 L229.7 224.6 L226.6 222.2 L223.5 220.0 L220.3 218.2 L217.1 216.7 L214.0 215.6 L210.9 214.8 L207.8 214.4 L204.9 214.4 L202.1 214.7 L199.4 215.4 L196.9 216.5 L194.6 217.9 L192.4 219.6 L190.5 221.7 L188.8 224.1 L187.4 226.8 L186.2 229.8 L185.2 233.0 L184.5 236.4 L184.1 240.1 L184.0 243.9 L184.2 247.8 L184.6 251.9 L185.3 256.1 L186.3 260.3 L187.5 264.5 L189.0 268.7 L190.7 272.9 L192.7 277.0 L194.9 280.9 L197.2 284.8 L199.8 288.5 L202.5 292.0 L205.3 295.2 L208.2 298.2 L211.3 301.0 L214.4 303.4 L217.5 305.6 L220.7 307.4 L223.9 308.9 L227.0 310.0 L230.1 310.8 L233.2 311.2 L236.1 311.2 L238.9 310.9 L241.6 310.2 L244.1 309.1Z" fill="#f8f8f8" stroke="#141414" stroke-width="2.34" stroke-linejoin="round" stroke-linecap="round" />
<path d="M241.1 302.2 L243.1 301.0 L245.0 299.5 L246.6 297.7 L248.1 295.7 L249.3 293.4 L250.3 290.8 L251.1 288.1 L251.7 285.2 L252.1 282.0 L252.2 278.8 L252.0 275.4 L251.6 271.9 L251.0 268.3 L250.2 264.7 L249.2 261.1 L247.9 257.5 L246.4 254.0 L244.7 250.5 L242.9 247.0 L240.9 243.8 L238.7 240.6 L236.4 237.6 L234.0 234.8 L231.4 232.3 L228.8 229.9 L226.2 227.8 L223.5 226.0 L220.8 224.4 L218.0 223.1 L215.3 222.2 L212.7 221.5 L210.1 221.2 L207.6 221.1 L205.2 221.4 L202.9 222.0 L200.7 222.9 L198.7 224.1 L196.9 225.6 L195.3 227.4 L193.8 229.5 L192.6 231.8 L191.6 234.3 L190.8 237.0 L190.2 240.0 L189.8 243.1 L189.7 246.4 L189.9 249.8 L190.2 253.2 L190.8 256.8 L191.7 260.4 L192.7 264.0 L194.0 267.6 L195.5 271.2 L197.2 274.7 L199.0 278.1 L201.0 281.4 L203.2 284.5 L205.5 287.5 L207.9 290.3 L210.4 292.9 L213.0 295.2 L215.7 297.3 L218.4 299.2 L221.1 300.7 L223.8 302.0 L226.5 303.0 L229.2 303.6 L231.8 304.0 L234.3 304.0 L236.7 303.7 L239.0 303.1 L241.1 302.2Z" fill="#f8f8f8" stroke="#141414" stroke-width="1.95" stroke-linejoin="round" stroke-linecap="round" />
<clipPath id="bore"><path d="M241.0 302.0 L243.0 300.8 L244.8 299.3 L246.4 297.5 L247.9 295.5 L249.1 293.2 L250.1 290.7 L250.9 287.9 L251.5 285.0 L251.8 281.9 L251.9 278.7 L251.8 275.3 L251.4 271.8 L250.8 268.3 L250.0 264.7 L249.0 261.1 L247.7 257.6 L246.2 254.0 L244.6 250.5 L242.7 247.1 L240.7 243.9 L238.6 240.8 L236.3 237.8 L233.9 235.0 L231.4 232.5 L228.8 230.1 L226.1 228.0 L223.5 226.2 L220.8 224.7 L218.1 223.4 L215.4 222.4 L212.7 221.8 L210.2 221.4 L207.7 221.4 L205.3 221.7 L203.0 222.3 L200.9 223.2 L198.9 224.4 L197.1 225.9 L195.4 227.6 L194.0 229.7 L192.8 232.0 L191.8 234.5 L191.0 237.2 L190.4 240.1 L190.0 243.2 L189.9 246.5 L190.1 249.8 L190.4 253.3 L191.0 256.8 L191.9 260.4 L192.9 264.0 L194.2 267.6 L195.7 271.1 L197.3 274.6 L199.2 278.0 L201.2 281.3 L203.3 284.4 L205.6 287.4 L208.0 290.1 L210.5 292.7 L213.1 295.0 L215.7 297.1 L218.4 298.9 L221.1 300.5 L223.8 301.7 L226.5 302.7 L229.1 303.4 L231.7 303.7 L234.2 303.7 L236.6 303.4 L238.9 302.9 L241.0 302.0Z"/></clipPath>
<g clip-path="url(#bore)">
<path d="M204.3 221.6 L202.0 222.3 L199.9 223.4 L198.0 224.7 L196.2 226.3 L194.7 228.2 L193.3 230.4 L192.1 232.7 L191.2 235.4 L190.5 238.2 L190.0 241.2 L198.5 241.4 L198.7 238.2 L199.1 235.2 L199.7 232.4 L200.6 229.8 L201.7 227.4 L203.0 225.3 L204.5 223.4 L206.2 221.8 L208.0 220.4 L210.0 219.3 L212.2 218.6 L214.5 218.1Z" fill="#161616" stroke="#141414" stroke-width="0.78" stroke-linejoin="round" stroke-linecap="round" />
<path d="M218.9 220.5 L216.3 219.9 L213.7 219.5 L211.2 219.5 L208.8 219.8 L206.5 220.4 L204.4 221.3 L202.4 222.5 L200.6 224.0 L199.0 225.8 L197.5 227.8 L196.3 230.1 L195.3 232.6 L194.5 235.3 L193.9 238.3 L193.5 241.4 L193.4 244.6 L193.6 248.0 L193.9 251.5 L194.5 255.0 L195.4 258.6 L196.4 262.2 L197.7 265.8 L199.2 269.3 L200.8 272.8 L202.7 276.2 L204.7 279.5 L206.8 282.6 L209.1 285.6 L211.5 288.4 L214.1 290.9 L216.6 293.3 L219.3 295.4 L222.0 297.2 L224.7 298.8 L227.4 300.0 L230.1 301.0 L232.7 301.6 L235.3 302.0 L237.8 302.0 L240.2 301.7 L242.5 301.1 L244.6 300.2 L246.6 299.0 L248.4 297.5 L250.1 295.8 L251.5 293.7" fill="none" stroke="#141414" stroke-width="1.17" stroke-linejoin="round" stroke-linecap="round" />
<path d="M223.5 219.0 L220.9 218.4 L218.4 218.0 L215.9 218.0 L213.6 218.3 L211.3 218.8 L209.2 219.7 L207.3 220.9 L205.5 222.4 L203.9 224.1 L202.5 226.1 L201.2 228.4 L200.2 230.8 L199.4 233.5 L198.9 236.4 L198.6 239.5 L198.5 242.7 L198.6 246.0 L199.0 249.4 L199.5 252.8 L200.4 256.4 L201.4 259.9 L202.6 263.4 L204.1 266.9 L205.7 270.3 L207.5 273.7 L209.5 276.9 L211.6 280.0 L213.9 282.9 L216.2 285.6 L218.7 288.1 L221.2 290.4 L223.8 292.5 L226.5 294.3 L229.1 295.8 L231.8 297.0 L234.4 298.0 L237.0 298.6 L239.6 299.0 L242.0 299.0 L244.4 298.7 L246.6 298.1 L248.7 297.2 L250.7 296.1 L252.5 294.6 L254.1 292.9 L255.5 290.9" fill="none" stroke="#141414" stroke-width="1.95" stroke-linejoin="round" stroke-linecap="round" />
<path d="M228.9 216.7 L226.3 216.1 L223.8 215.8 L221.4 215.7 L219.1 216.0 L216.9 216.6 L214.8 217.4 L212.9 218.6 L211.1 220.1 L209.5 221.8 L208.1 223.8 L206.9 226.0 L205.9 228.4 L205.1 231.1 L204.6 233.9 L204.3 237.0 L204.2 240.1 L204.3 243.4 L204.6 246.8 L205.2 250.2 L206.0 253.7 L207.1 257.2 L208.3 260.6 L209.7 264.1 L211.3 267.5 L213.1 270.8 L215.1 274.0 L217.2 277.0 L219.4 279.9 L221.7 282.6 L224.2 285.1 L226.7 287.3 L229.2 289.4 L231.9 291.1 L234.5 292.6 L237.1 293.9 L239.7 294.8 L242.3 295.4 L244.8 295.8 L247.2 295.8 L249.5 295.5 L251.8 295.0 L253.8 294.1 L255.8 292.9 L257.5 291.5 L259.1 289.7 L260.5 287.8" fill="none" stroke="#141414" stroke-width="1.17" stroke-linejoin="round" stroke-linecap="round" />
<path d="M231.6 215.8 L229.1 215.2 L226.6 214.9 L224.2 214.8 L221.9 215.1 L219.7 215.7 L217.7 216.5 L215.8 217.7 L214.0 219.1 L212.5 220.8 L211.1 222.8 L209.9 225.0 L208.9 227.4 L208.1 230.0 L207.6 232.8 L207.3 235.8 L207.2 238.9 L207.3 242.2 L207.7 245.5 L208.2 248.9 L209.0 252.3 L210.0 255.8 L211.3 259.2 L212.7 262.6 L214.3 266.0 L216.0 269.2 L218.0 272.4 L220.0 275.4 L222.2 278.2 L224.5 280.9 L227.0 283.4 L229.4 285.6 L232.0 287.6 L234.6 289.4 L237.2 290.9 L239.8 292.1 L242.3 293.0 L244.9 293.6 L247.3 293.9 L249.7 294.0 L252.0 293.7 L254.2 293.1 L256.3 292.3 L258.2 291.1 L259.9 289.7 L261.5 288.0 L262.9 286.0" fill="none" stroke="#141414" stroke-width="1.82" stroke-linejoin="round" stroke-linecap="round" />
</g>
<path d="M183.9 248.5 L185.4 257.7 L189.0 258.2 L187.7 250.0Z" fill="#f8f8f8" stroke="#141414" stroke-width="1.69" stroke-linejoin="round" stroke-linecap="round" />
<path d="M187.7 250.0 L190.3 252.3" fill="none" stroke="#141414" stroke-width="1.56" stroke-linejoin="round" stroke-linecap="round" />
<path d="M219.5 262.5 L225.0 257.5 L232.0 255.0 L236.5 255.8 L237.5 260.0 L235.0 264.5 L229.5 267.5 L224.5 267.0Z" fill="#2a2a2a" stroke="#141414" stroke-width="1.56" stroke-linejoin="round" stroke-linecap="round" />
<ellipse cx="231.5" cy="260.5" rx="2.4" ry="3.2" fill="#d8d8d8" stroke="#141414" stroke-width="1" transform="rotate(25 231.5 260.5)"/>
<ellipse cx="225" cy="263" rx="1.8" ry="2.6" fill="#d0d0d0" stroke="#141414" stroke-width="0.8" transform="rotate(25 225 263)"/>
<path d="M238.5 254.0 L241.0 256.0 L240.5 261.5" fill="none" stroke="#141414" stroke-width="1.43" stroke-linejoin="round" stroke-linecap="round" />
<path d="M495.4 284.5 L496.4 283.9 L497.3 283.1 L498.2 282.2 L498.9 281.2 L499.5 280.0 L500.0 278.7 L500.4 277.3 L500.6 275.8 L500.8 274.2 L500.8 272.5 L500.7 270.8 L500.5 269.0 L500.2 267.2 L499.7 265.3 L499.2 263.5 L498.5 261.6 L497.8 259.8 L496.9 257.9 L495.9 256.2 L494.9 254.5 L493.8 252.8 L492.6 251.3 L491.4 249.9 L490.1 248.5 L488.7 247.3 L487.4 246.2 L486.0 245.2 L484.6 244.4 L483.3 243.7 L481.9 243.2 L480.6 242.9 L479.3 242.7 L478.0 242.6 L476.8 242.8 L475.6 243.1 L474.6 243.5 L473.6 244.1 L472.7 244.9 L471.8 245.8 L471.1 246.8 L470.5 248.0 L470.0 249.3 L469.6 250.7 L469.4 252.2 L469.2 253.8 L469.2 255.5 L469.3 257.2 L469.5 259.0 L469.8 260.8 L470.3 262.7 L470.8 264.5 L471.5 266.4 L472.2 268.2 L473.1 270.1 L474.1 271.8 L475.1 273.5 L476.2 275.2 L477.4 276.7 L478.6 278.1 L479.9 279.5 L481.3 280.7 L482.6 281.8 L484.0 282.8 L485.4 283.6 L486.7 284.3 L488.1 284.8 L489.4 285.1 L490.7 285.3 L492.0 285.4 L493.2 285.2 L494.4 284.9 L495.4 284.5Z" fill="#f8f8f8" stroke="#141414" stroke-width="2.21" stroke-linejoin="round" stroke-linecap="round" />
<path d="M491.6 276.9 L492.2 276.5 L492.8 276.1 L493.3 275.5 L493.7 274.8 L494.1 274.1 L494.4 273.3 L494.7 272.4 L494.9 271.4 L495.0 270.4 L495.0 269.4 L494.9 268.3 L494.8 267.2 L494.6 266.0 L494.3 264.8 L493.9 263.7 L493.5 262.5 L493.0 261.3 L492.5 260.2 L491.9 259.1 L491.2 258.0 L490.5 257.0 L489.8 256.0 L489.0 255.1 L488.2 254.2 L487.4 253.5 L486.5 252.8 L485.6 252.2 L484.8 251.6 L483.9 251.2 L483.0 250.9 L482.2 250.7 L481.4 250.6 L480.6 250.5 L479.8 250.6 L479.1 250.8 L478.4 251.1 L477.8 251.5 L477.2 251.9 L476.7 252.5 L476.3 253.2 L475.9 253.9 L475.6 254.7 L475.3 255.6 L475.1 256.6 L475.0 257.6 L475.0 258.6 L475.1 259.7 L475.2 260.8 L475.4 262.0 L475.7 263.2 L476.1 264.3 L476.5 265.5 L477.0 266.7 L477.5 267.8 L478.1 268.9 L478.8 270.0 L479.5 271.0 L480.2 272.0 L481.0 272.9 L481.8 273.8 L482.6 274.5 L483.5 275.2 L484.4 275.8 L485.2 276.4 L486.1 276.8 L487.0 277.1 L487.8 277.3 L488.6 277.4 L489.4 277.5 L490.2 277.4 L490.9 277.2 L491.6 276.9Z" fill="#f8f8f8" stroke="#141414" stroke-width="1.82" stroke-linejoin="round" stroke-linecap="round" />
<path d="M477.6 252.5 L477.2 253.2 L476.9 254.0 L476.6 254.9 L476.5 255.9 L476.4 256.9 L476.4 257.9 L476.4 259.0 L476.6 260.2 L476.8 261.3 L477.0 262.5 L477.4 263.7 L477.8 264.8 L478.3 266.0 L478.8 267.1 L479.4 268.2 L480.1 269.3 L480.8 270.4 L481.5 271.3 L482.3 272.2 L483.1 273.1 L484.0 273.9 L484.8 274.5 L485.7 275.2 L486.6 275.7 L487.4 276.1 L488.3 276.4 L489.1 276.6 L490.0 276.8" fill="none" stroke="#141414" stroke-width="1.3" stroke-linejoin="round" stroke-linecap="round" />
<path d="M432.5 274.3 L431.8 274.7 L431.1 275.3 L430.6 275.9 L430.0 276.7 L429.6 277.5 L429.2 278.4 L429.0 279.4 L428.8 280.5 L428.7 281.7 L428.7 282.9 L428.7 284.1 L428.9 285.4 L429.1 286.7 L429.4 288.1 L429.8 289.4 L430.3 290.7 L430.9 292.0 L431.5 293.3 L432.2 294.6 L432.9 295.8 L433.7 297.0 L434.5 298.1 L435.4 299.2 L436.4 300.1 L437.3 301.0 L438.3 301.8 L439.3 302.5 L440.3 303.1 L441.2 303.5 L442.2 303.9 L443.2 304.2 L444.1 304.3 L445.0 304.3 L445.9 304.2 L446.7 304.0 L447.5 303.7 L462.6 296.0 L463.4 295.5 L464.0 295.0 L464.6 294.4 L465.1 293.6 L465.5 292.8 L465.9 291.8 L466.2 290.8 L466.4 289.8 L466.5 288.6 L466.5 287.4 L466.4 286.2 L466.3 284.9 L466.0 283.6 L465.7 282.2 L465.3 280.9 L464.8 279.6 L464.3 278.2 L463.7 276.9 L463.0 275.7 L462.2 274.5 L461.4 273.3 L460.6 272.2 L459.7 271.1 L458.8 270.2 L457.8 269.3 L456.9 268.5 L455.9 267.8 L454.9 267.2 L453.9 266.7 L452.9 266.4 L452.0 266.1 L451.0 266.0 L450.1 266.0 L449.3 266.0 L448.4 266.3 L447.7 266.6Z" fill="#f8f8f8" stroke="#141414" stroke-width="1.69" stroke-linejoin="round" stroke-linecap="round" />
<path d="M447.1 264.4 L446.3 264.9 L445.6 265.4 L445.0 266.1 L444.4 266.9 L444.0 267.8 L443.6 268.8 L443.3 269.9 L443.1 271.0 L443.0 272.2 L443.0 273.5 L443.0 274.8 L443.2 276.2 L443.4 277.6 L443.8 279.0 L444.2 280.4 L444.7 281.8 L445.3 283.2 L446.0 284.6 L446.7 285.9 L447.5 287.2 L448.3 288.5 L449.2 289.7 L450.2 290.8 L451.1 291.8 L452.1 292.7 L453.2 293.6 L454.2 294.3 L455.3 294.9 L456.3 295.4 L457.4 295.8 L458.4 296.1 L459.4 296.2 L460.3 296.3 L461.3 296.2 L462.1 295.9 L462.9 295.6 L480.8 286.5 L481.5 286.1 L482.2 285.5 L482.8 284.8 L483.4 284.0 L483.8 283.1 L484.2 282.1 L484.5 281.0 L484.7 279.9 L484.8 278.7 L484.9 277.4 L484.8 276.1 L484.6 274.7 L484.4 273.3 L484.0 271.9 L483.6 270.5 L483.1 269.1 L482.5 267.7 L481.9 266.3 L481.1 265.0 L480.3 263.7 L479.5 262.4 L478.6 261.3 L477.7 260.2 L476.7 259.1 L475.7 258.2 L474.6 257.4 L473.6 256.6 L472.5 256.0 L471.5 255.5 L470.5 255.1 L469.4 254.8 L468.4 254.7 L467.5 254.7 L466.6 254.8 L465.7 255.0 L464.9 255.3Z" fill="#f8f8f8" stroke="#141414" stroke-width="2.08" stroke-linejoin="round" stroke-linecap="round" />
<path d="M462.5 295.8 L465.8 292.6 L482.0 285.6 L477.9 287.2Z" fill="#f8f8f8" stroke="#141414" stroke-width="1.43" stroke-linejoin="round" stroke-linecap="round" />
<path d="M462.5 295.8 L477.9 287.2" fill="none" stroke="#141414" stroke-width="3.9" stroke-linejoin="round" stroke-linecap="round" />
<path d="M466.6 290.5 L466.9 284.2 L484.8 278.8 L483.3 284.1Z" fill="#f8f8f8" stroke="#141414" stroke-width="1.43" stroke-linejoin="round" stroke-linecap="round" />
<path d="M466.6 290.5 L483.3 284.1" fill="none" stroke="#141414" stroke-width="3.9" stroke-linejoin="round" stroke-linecap="round" />
<path d="M466.3 281.2 L463.4 274.2 L483.0 268.9 L484.8 276.0Z" fill="#f8f8f8" stroke="#141414" stroke-width="1.43" stroke-linejoin="round" stroke-linecap="round" />
<path d="M466.3 281.2 L484.8 276.0" fill="none" stroke="#141414" stroke-width="3.9" stroke-linejoin="round" stroke-linecap="round" />
<path d="M461.6 271.4 L456.7 266.4 L477.3 259.8 L481.7 265.9Z" fill="#f8f8f8" stroke="#141414" stroke-width="1.43" stroke-linejoin="round" stroke-linecap="round" />
<path d="M461.6 271.4 L481.7 265.9" fill="none" stroke="#141414" stroke-width="3.9" stroke-linejoin="round" stroke-linecap="round" />
<path d="M454.4 264.9 L449.4 263.8 L469.9 255.0 L475.2 257.8Z" fill="#f8f8f8" stroke="#141414" stroke-width="1.43" stroke-linejoin="round" stroke-linecap="round" />
<path d="M454.4 264.9 L475.2 257.8" fill="none" stroke="#141414" stroke-width="3.9" stroke-linejoin="round" stroke-linecap="round" />
<path d="M447.5 264.2 L445.9 265.2 L465.9 254.9 L467.8 254.7Z" fill="#f8f8f8" stroke="#141414" stroke-width="1.43" stroke-linejoin="round" stroke-linecap="round" />
<path d="M447.5 264.2 L467.8 254.7" fill="none" stroke="#141414" stroke-width="3.9" stroke-linejoin="round" stroke-linecap="round" />
<path d="M479.9 286.9 L480.8 286.5 L481.5 286.1 L482.2 285.5 L482.8 284.8 L483.4 284.0 L483.8 283.1 L484.2 282.1 L484.5 281.0 L484.7 279.9 L484.8 278.7 L484.9 277.4 L484.8 276.1 L484.6 274.7 L484.4 273.3 L484.0 271.9 L483.6 270.5 L483.1 269.1 L482.5 267.7 L481.9 266.3 L481.1 265.0 L480.3 263.7 L479.5 262.4 L478.6 261.3 L477.7 260.2 L476.7 259.1 L475.7 258.2 L474.6 257.4 L473.6 256.6 L472.5 256.0 L471.5 255.5 L470.5 255.1 L469.4 254.8 L468.4 254.7 L467.5 254.7 L466.6 254.8 L465.7 255.0 L464.9 255.3 L464.1 255.8" fill="none" stroke="#141414" stroke-width="1.95" stroke-linejoin="round" stroke-linecap="round" />
<path d="M460.9 296.2 L461.8 296.0 L462.7 295.7 L463.5 295.3 L464.2 294.8 L464.8 294.1 L465.4 293.3 L465.9 292.4 L466.3 291.4 L466.6 290.4 L466.9 289.2 L467.0 288.0 L467.0 286.7 L467.0 285.4 L466.8 284.0 L466.6 282.6 L466.2 281.1 L465.8 279.7 L465.3 278.2 L464.7 276.8 L464.0 275.4 L463.3 274.0 L462.5 272.7 L461.6 271.4 L460.7 270.2 L459.7 269.1 L458.7 268.1 L457.7 267.2 L456.7 266.3 L455.6 265.6 L454.5 265.0 L453.4 264.5 L452.4 264.1 L451.4 263.9 L450.4 263.8 L449.4 263.8 L448.5 263.9 L447.6 264.2 L446.8 264.6 L446.0 265.1 L445.3 265.7" fill="none" stroke="#141414" stroke-width="1.95" stroke-linejoin="round" stroke-linecap="round" />
<path d="M457.1 297.6 L457.7 297.1 L458.2 296.5 L458.7 295.8 L459.1 295.0 L459.5 294.2 L459.7 293.2 L459.9 292.2 L460.0 291.1 L460.0 290.0 L460.0 288.8 L459.8 287.6 L459.6 286.4 L459.3 285.1 L458.9 283.9 L458.5 282.6 L457.9 281.4 L457.4 280.2 L456.7 279.0 L456.0 277.8 L455.3 276.7 L454.5 275.7 L453.6 274.7 L452.8 273.8 L451.9 273.0 L451.0 272.2 L450.0 271.6 L449.1 271.0 L448.2 270.6 L447.3 270.2 L446.4 270.0 L445.5 269.9 L444.6 269.8 L443.8 269.9 L443.0 270.1 L445.7 268.8 L446.5 268.6 L447.3 268.5 L448.2 268.5 L449.0 268.6 L449.9 268.9 L450.9 269.2 L451.8 269.7 L452.7 270.2 L453.6 270.9 L454.6 271.6 L455.4 272.4 L456.3 273.3 L457.1 274.3 L457.9 275.4 L458.7 276.5 L459.4 277.6 L460.0 278.8 L460.6 280.0 L461.1 281.2 L461.6 282.5 L462.0 283.8 L462.3 285.0 L462.5 286.2 L462.6 287.4 L462.7 288.6 L462.7 289.8 L462.6 290.8 L462.4 291.8 L462.1 292.8 L461.8 293.7 L461.4 294.5 L460.9 295.2 L460.3 295.8 L459.7 296.3Z" fill="#1a1a1a" stroke="#141414" stroke-width="0.78" stroke-linejoin="round" stroke-linecap="round" />
<path d="M453.0 300.8 L453.7 300.5 L454.4 300.1 L455.1 299.5 L455.7 298.9 L456.2 298.2 L456.6 297.3 L457.0 296.4 L457.3 295.4 L457.5 294.3 L457.6 293.1 L457.6 291.9 L457.5 290.7 L457.4 289.4 L457.1 288.1 L456.8 286.8 L456.4 285.4 L455.9 284.1 L455.4 282.8 L454.8 281.5 L454.1 280.2 L453.3 279.0 L452.5 277.8 L451.7 276.7 L450.8 275.7 L449.9 274.7 L448.9 273.8 L448.0 273.0 L447.0 272.4 L446.0 271.8 L445.0 271.3 L444.0 270.9 L443.1 270.7 L442.1 270.5 L441.2 270.5 L440.3 270.6 L439.5 270.8 L438.7 271.1 L438.0 271.6" fill="none" stroke="#141414" stroke-width="1.56" stroke-linejoin="round" stroke-linecap="round" />
<path d="M396.3 271.7 L394.7 272.7 L393.2 273.9 L391.9 275.3 L390.8 277.0 L389.8 278.9 L389.0 280.9 L388.4 283.2 L388.0 285.6 L387.7 288.2 L387.7 290.8 L387.8 293.6 L388.2 296.5 L388.7 299.4 L389.4 302.4 L390.3 305.4 L391.4 308.3 L392.6 311.3 L394.0 314.2 L395.5 317.0 L397.2 319.7 L399.0 322.3 L400.8 324.8 L402.8 327.1 L404.9 329.3 L407.0 331.2 L409.2 333.0 L411.4 334.5 L413.6 335.8 L415.8 336.9 L418.0 337.7 L420.1 338.3 L422.2 338.6 L424.2 338.7 L426.2 338.5 L428.0 338.0 L429.7 337.3 L447.5 328.2 L449.1 327.2 L450.6 326.0 L451.9 324.6 L453.0 322.9 L454.0 321.0 L454.8 319.0 L455.4 316.7 L455.8 314.3 L456.1 311.8 L456.1 309.1 L456.0 306.3 L455.6 303.4 L455.1 300.5 L454.4 297.5 L453.5 294.5 L452.4 291.6 L451.2 288.6 L449.8 285.7 L448.3 282.9 L446.6 280.2 L444.9 277.6 L443.0 275.1 L441.0 272.8 L438.9 270.6 L436.8 268.7 L434.6 266.9 L432.5 265.4 L430.2 264.1 L428.0 263.0 L425.9 262.2 L423.7 261.6 L421.6 261.3 L419.6 261.2 L417.7 261.4 L415.8 261.9 L414.1 262.6Z" fill="#f8f8f8" stroke="#141414" stroke-width="2.21" stroke-linejoin="round" stroke-linecap="round" />
<path d="M429.7 337.3 L431.3 336.3 L432.8 335.1 L434.1 333.7 L435.2 332.0 L436.2 330.1 L437.0 328.1 L437.6 325.8 L438.0 323.4 L438.3 320.8 L438.3 318.2 L438.2 315.4 L437.8 312.5 L437.3 309.6 L436.6 306.6 L435.7 303.6 L434.6 300.7 L433.4 297.7 L432.0 294.8 L430.5 292.0 L428.8 289.3 L427.0 286.7 L425.2 284.2 L423.2 281.9 L421.1 279.7 L419.0 277.8 L416.8 276.0 L414.6 274.5 L412.4 273.2 L410.2 272.1 L408.0 271.3 L405.9 270.7 L403.8 270.4 L401.8 270.3 L399.8 270.5 L398.0 271.0 L396.3 271.7" fill="none" stroke="#141414" stroke-width="2.21" stroke-linejoin="round" stroke-linecap="round" />
<path d="M426.9 338.3 L427.4 338.2 L441.5 329.6 L440.9 329.6Z" fill="#f8f8f8" stroke="#141414" stroke-width="1.56" stroke-linejoin="round" stroke-linecap="round" />
<path d="M426.9 338.3 L440.9 329.6" fill="none" stroke="#141414" stroke-width="4.42" stroke-linejoin="round" stroke-linecap="round" />
<path d="M426.9 338.3 L423.9 332.9 L425.7 332.5 L427.4 338.2" fill="none" stroke="#141414" stroke-width="1.56" stroke-linejoin="round" stroke-linecap="round" />
<path d="M429.7 337.3 L434.3 333.4 L449.4 327.0 L444.1 329.4Z" fill="#f8f8f8" stroke="#141414" stroke-width="1.56" stroke-linejoin="round" stroke-linecap="round" />
<path d="M429.7 337.3 L444.1 329.4" fill="none" stroke="#141414" stroke-width="4.42" stroke-linejoin="round" stroke-linecap="round" />
<path d="M429.7 337.3 L426.4 332.2 L431.2 328.1 L434.3 333.4" fill="none" stroke="#141414" stroke-width="1.56" stroke-linejoin="round" stroke-linecap="round" />
<path d="M435.7 331.0 L437.9 324.2 L454.6 319.6 L451.3 325.2Z" fill="#f8f8f8" stroke="#141414" stroke-width="1.56" stroke-linejoin="round" stroke-linecap="round" />
<path d="M435.7 331.0 L451.3 325.2" fill="none" stroke="#141414" stroke-width="4.42" stroke-linejoin="round" stroke-linecap="round" />
<path d="M435.7 331.0 L431.6 327.4 L434.0 320.0 L437.9 324.2" fill="none" stroke="#141414" stroke-width="1.56" stroke-linejoin="round" stroke-linecap="round" />
<path d="M438.3 320.8 L437.7 312.0 L456.1 308.5 L455.4 316.6Z" fill="#f8f8f8" stroke="#141414" stroke-width="1.56" stroke-linejoin="round" stroke-linecap="round" />
<path d="M438.3 320.8 L455.4 316.6" fill="none" stroke="#141414" stroke-width="4.42" stroke-linejoin="round" stroke-linecap="round" />
<path d="M438.3 320.8 L434.1 319.1 L433.5 309.7 L437.7 312.0" fill="none" stroke="#141414" stroke-width="1.56" stroke-linejoin="round" stroke-linecap="round" />
<path d="M436.9 308.0 L433.8 298.7 L453.8 295.4 L455.8 304.7Z" fill="#f8f8f8" stroke="#141414" stroke-width="1.56" stroke-linejoin="round" stroke-linecap="round" />
<path d="M436.9 308.0 L455.8 304.7" fill="none" stroke="#141414" stroke-width="4.42" stroke-linejoin="round" stroke-linecap="round" />
<path d="M436.9 308.0 L433.3 308.6 L429.9 298.5 L433.8 298.7" fill="none" stroke="#141414" stroke-width="1.56" stroke-linejoin="round" stroke-linecap="round" />
<path d="M432.0 294.7 L426.7 286.2 L448.0 282.3 L452.4 291.4Z" fill="#f8f8f8" stroke="#141414" stroke-width="1.56" stroke-linejoin="round" stroke-linecap="round" />
<path d="M432.0 294.7 L452.4 291.4" fill="none" stroke="#141414" stroke-width="4.42" stroke-linejoin="round" stroke-linecap="round" />
<path d="M432.0 294.7 L429.4 297.4 L423.8 288.3 L426.7 286.2" fill="none" stroke="#141414" stroke-width="1.56" stroke-linejoin="round" stroke-linecap="round" />
<path d="M424.1 282.9 L417.5 276.5 L439.5 271.2 L445.7 278.7Z" fill="#f8f8f8" stroke="#141414" stroke-width="1.56" stroke-linejoin="round" stroke-linecap="round" />
<path d="M424.1 282.9 L445.7 278.7" fill="none" stroke="#141414" stroke-width="4.42" stroke-linejoin="round" stroke-linecap="round" />
<path d="M424.1 282.9 L423.1 287.3 L416.0 280.5 L417.5 276.5" fill="none" stroke="#141414" stroke-width="1.56" stroke-linejoin="round" stroke-linecap="round" />
<path d="M414.6 274.4 L407.7 271.1 L429.8 263.8 L436.7 268.6Z" fill="#f8f8f8" stroke="#141414" stroke-width="1.56" stroke-linejoin="round" stroke-linecap="round" />
<path d="M414.6 274.4 L436.7 268.6" fill="none" stroke="#141414" stroke-width="4.42" stroke-linejoin="round" stroke-linecap="round" />
<path d="M414.6 274.4 L415.2 279.9 L407.7 276.4 L407.7 271.1" fill="none" stroke="#141414" stroke-width="1.56" stroke-linejoin="round" stroke-linecap="round" />
<path d="M404.8 270.5 L398.6 270.8 L420.2 261.2 L426.8 262.5Z" fill="#f8f8f8" stroke="#141414" stroke-width="1.56" stroke-linejoin="round" stroke-linecap="round" />
<path d="M404.8 270.5 L426.8 262.5" fill="none" stroke="#141414" stroke-width="4.42" stroke-linejoin="round" stroke-linecap="round" />
<path d="M404.8 270.5 L406.9 276.2 L400.3 276.5 L398.6 270.8" fill="none" stroke="#141414" stroke-width="1.56" stroke-linejoin="round" stroke-linecap="round" />
<path d="M396.3 271.7 L393.8 273.4 L414.7 262.3 L417.5 261.5Z" fill="#f8f8f8" stroke="#141414" stroke-width="1.56" stroke-linejoin="round" stroke-linecap="round" />
<path d="M396.3 271.7 L417.5 261.5" fill="none" stroke="#141414" stroke-width="4.42" stroke-linejoin="round" stroke-linecap="round" />
<path d="M396.3 271.7 L399.6 276.8 L396.4 278.9 L393.8 273.4" fill="none" stroke="#141414" stroke-width="1.56" stroke-linejoin="round" stroke-linecap="round" />
<path d="M445.8 328.9 L447.5 328.2 L449.1 327.2 L450.6 326.0 L451.9 324.6 L453.0 322.9 L454.0 321.0 L454.8 319.0 L455.4 316.7 L455.8 314.3 L456.1 311.8 L456.1 309.1 L456.0 306.3 L455.6 303.4 L455.1 300.5 L454.4 297.5 L453.5 294.5 L452.4 291.6 L451.2 288.6 L449.8 285.7 L448.3 282.9 L446.6 280.2 L444.9 277.6 L443.0 275.1 L441.0 272.8 L438.9 270.6 L436.8 268.7 L434.6 266.9 L432.5 265.4 L430.2 264.1 L428.0 263.0 L425.9 262.2 L423.7 261.6 L421.6 261.3 L419.6 261.2 L417.7 261.4 L415.8 261.9 L414.1 262.6 L412.5 263.6" fill="none" stroke="#141414" stroke-width="2.08" stroke-linejoin="round" stroke-linecap="round" />
<path d="M428.8 335.5 L430.3 334.6 L431.7 333.4 L432.9 332.1 L434.0 330.5 L434.9 328.7 L435.7 326.8 L436.3 324.6 L436.7 322.4 L436.9 319.9 L436.9 317.4 L436.8 314.8 L436.5 312.1 L436.0 309.3 L435.3 306.5 L434.5 303.7 L433.5 300.9 L432.3 298.1 L431.0 295.3 L429.5 292.7 L428.0 290.1 L426.3 287.6 L424.5 285.3 L422.6 283.1 L420.7 281.1 L418.7 279.2 L416.6 277.5 L414.5 276.1 L412.5 274.9 L410.4 273.8 L408.3 273.1 L406.3 272.5 L404.3 272.2 L402.4 272.2 L400.6 272.4 L398.8 272.8 L397.2 273.5 L395.7 274.4 L394.3 275.6 L393.1 276.9 L392.0 278.5 L391.1 280.3 L390.3 282.2 L389.7 284.4 L389.3 286.6 L389.1 289.1 L389.1 291.6 L389.2 294.2 L389.5 296.9 L390.0 299.7 L390.7 302.5 L391.5 305.3 L392.5 308.1 L393.7 310.9 L395.0 313.7 L396.5 316.3 L398.0 318.9 L399.7 321.4 L401.5 323.7 L403.4 325.9 L405.3 327.9 L407.3 329.8 L409.4 331.5 L411.5 332.9 L413.5 334.1 L415.6 335.2 L417.7 335.9 L419.7 336.5 L421.7 336.8 L423.6 336.8 L425.4 336.6 L427.2 336.2 L428.8 335.5Z" fill="#f8f8f8" stroke="#f8f8f8" stroke-width="0.1" stroke-linejoin="round" stroke-linecap="round" />
<path d="M400.3 270.0 L401.2 277.3 L399.6 277.9 L394.4 272.3 L392.7 273.7 L395.7 281.2 L394.7 282.9 L389.1 279.6 L388.2 282.2 L392.8 288.7 L392.6 291.1 L387.3 290.7 L387.5 294.0 L393.0 298.6 L393.6 301.4 L389.5 303.9 L390.7 307.5 L396.2 309.4 L397.5 312.2 L395.3 317.2 L397.3 320.4 L402.0 319.5 L403.8 321.8 L403.8 328.6 L406.2 331.0 L409.5 327.3 L411.6 328.7 L413.6 336.3 L416.2 337.5 L417.5 331.6 L419.5 332.0 L423.4 339.2 L425.7 339.0 L424.8 331.7 L426.4 331.1 L431.6 336.7 L433.3 335.3" fill="#f8f8f8" stroke="#141414" stroke-width="2.34" stroke-linejoin="round" stroke-linecap="round" />
<path d="M423.5 329.5 L424.7 328.8 L425.8 327.9 L426.7 326.8 L427.6 325.5 L428.3 324.1 L428.9 322.6 L429.4 320.9 L429.7 319.1 L429.9 317.2 L429.9 315.2 L429.8 313.1 L429.5 311.0 L429.2 308.8 L428.6 306.6 L428.0 304.3 L427.2 302.1 L426.2 299.9 L425.2 297.8 L424.1 295.7 L422.8 293.6 L421.5 291.7 L420.1 289.8 L418.6 288.1 L417.1 286.5 L415.5 285.0 L413.9 283.7 L412.2 282.6 L410.6 281.6 L408.9 280.8 L407.3 280.2 L405.7 279.7 L404.1 279.5 L402.6 279.5 L401.2 279.6 L399.8 280.0 L398.5 280.5 L397.3 281.2 L396.2 282.1 L395.3 283.2 L394.4 284.5 L393.7 285.9 L393.1 287.4 L392.6 289.1 L392.3 290.9 L392.1 292.8 L392.1 294.8 L392.2 296.9 L392.5 299.0 L392.8 301.2 L393.4 303.4 L394.0 305.7 L394.8 307.9 L395.8 310.1 L396.8 312.2 L397.9 314.3 L399.2 316.4 L400.5 318.3 L401.9 320.2 L403.4 321.9 L404.9 323.5 L406.5 325.0 L408.1 326.3 L409.8 327.4 L411.4 328.4 L413.1 329.2 L414.7 329.8 L416.3 330.3 L417.9 330.5 L419.4 330.5 L420.8 330.4 L422.2 330.0 L423.5 329.5Z" fill="#f8f8f8" stroke="#141414" stroke-width="2.21" stroke-linejoin="round" stroke-linecap="round" />
<path d="M421.6 324.6 L422.5 324.1 L423.4 323.3 L424.2 322.4 L424.9 321.4 L425.5 320.3 L426.0 319.0 L426.3 317.7 L426.6 316.2 L426.8 314.7 L426.8 313.0 L426.7 311.4 L426.5 309.6 L426.2 307.8 L425.7 306.1 L425.2 304.2 L424.6 302.4 L423.8 300.7 L423.0 298.9 L422.0 297.2 L421.0 295.5 L420.0 294.0 L418.8 292.5 L417.6 291.1 L416.4 289.8 L415.1 288.6 L413.8 287.5 L412.4 286.6 L411.1 285.8 L409.8 285.1 L408.4 284.6 L407.1 284.3 L405.9 284.1 L404.6 284.1 L403.5 284.2 L402.4 284.5 L401.3 284.9 L400.4 285.5 L399.5 286.2 L398.7 287.1 L398.0 288.1 L397.4 289.2 L396.9 290.5 L396.5 291.9 L396.3 293.3 L396.1 294.9 L396.1 296.5 L396.2 298.2 L396.4 299.9 L396.7 301.7 L397.2 303.5 L397.7 305.3 L398.3 307.1 L399.1 308.9 L399.9 310.6 L400.8 312.4 L401.9 314.0 L402.9 315.6 L404.1 317.1 L405.3 318.5 L406.5 319.8 L407.8 321.0 L409.1 322.0 L410.5 323.0 L411.8 323.8 L413.1 324.4 L414.5 324.9 L415.8 325.3 L417.0 325.5 L418.2 325.5 L419.4 325.4 L420.5 325.1 L421.6 324.6Z" fill="#f8f8f8" stroke="#141414" stroke-width="1.95" stroke-linejoin="round" stroke-linecap="round" />
<path d="M412.4 286.6 L411.1 285.8 L409.8 285.1 L408.4 284.6 L407.1 284.3 L405.9 284.1 L404.6 284.1 L403.5 284.2 L402.4 284.5 L401.3 284.9 L400.4 285.5 L399.5 286.2 L398.7 287.1 L398.0 288.1 L397.4 289.2 L396.9 290.5 L396.5 291.9 L396.3 293.3 L396.1 294.9 L396.1 296.5 L396.2 298.2 L396.4 299.9 L396.7 301.7 L397.2 303.5 L397.7 305.3 L398.3 307.1 L399.1 308.9 L399.9 310.6 L400.8 312.4 L401.9 314.0 L402.9 315.6 L410.5 313.1 L409.4 311.8 L408.4 310.3 L407.5 308.8 L406.6 307.2 L405.9 305.6 L405.2 304.0 L404.6 302.3 L404.1 300.6 L403.7 299.0 L403.4 297.4 L403.2 295.8 L403.1 294.2 L403.2 292.7 L403.3 291.3 L403.5 290.0 L403.9 288.7 L404.3 287.5 L404.9 286.5 L405.5 285.6 L406.2 284.8 L407.0 284.1 L407.9 283.6 L408.9 283.2 L409.9 282.9 L411.0 282.8 L412.1 282.8 L413.3 283.0 L414.5 283.3 L415.7 283.8 L416.9 284.4 L418.1 285.1 L419.4 285.9Z" fill="#1a1a1a" stroke="#141414" stroke-width="0.78" stroke-linejoin="round" stroke-linecap="round" />
<path d="M414.5 283.3 L413.3 283.0 L412.1 282.8 L411.0 282.8 L409.9 282.9 L408.9 283.2 L407.9 283.6 L407.0 284.1 L406.2 284.8 L405.5 285.6 L404.9 286.5 L404.3 287.5 L403.9 288.7 L403.5 290.0 L403.3 291.3 L403.2 292.7 L403.1 294.2 L403.2 295.8 L403.4 297.4 L403.7 299.0 L404.1 300.6 L404.6 302.3 L405.2 304.0 L405.9 305.6 L406.6 307.2 L407.5 308.8 L408.4 310.3 L409.4 311.8 L410.5 313.1 L411.6 314.4 L412.7 315.6 L413.9 316.7 L415.1 317.7 L416.3 318.6 L417.6 319.3 L418.8 319.9 L420.0 320.3 L421.2 320.7 L422.4 320.8 L423.5 320.9 L424.6 320.7 L425.6 320.5 L426.5 320.1" fill="none" stroke="#141414" stroke-width="1.43" stroke-linejoin="round" stroke-linecap="round" />
<path d="M399.2 341.2 L400.2 340.6 L401.2 339.8 L402.0 338.8 L402.8 337.7 L403.4 336.5 L403.9 335.2 L404.3 333.7 L404.6 332.1 L404.8 330.5 L404.8 328.7 L404.7 326.9 L404.5 325.0 L404.1 323.1 L403.7 321.2 L403.1 319.2 L402.4 317.3 L401.6 315.4 L400.7 313.5 L399.7 311.6 L398.6 309.9 L397.5 308.2 L396.2 306.5 L394.9 305.0 L393.6 303.6 L392.2 302.4 L390.8 301.2 L389.4 300.2 L387.9 299.4 L386.5 298.7 L385.1 298.1 L383.7 297.7 L382.3 297.5 L381.0 297.5 L379.7 297.6 L378.5 297.9 L377.4 298.4 L376.4 299.0 L375.4 299.8 L374.6 300.8 L373.8 301.9 L373.2 303.1 L372.7 304.4 L372.3 305.9 L372.0 307.5 L371.8 309.1 L371.8 310.9 L371.9 312.7 L372.1 314.6 L372.5 316.5 L372.9 318.4 L373.5 320.4 L374.2 322.3 L375.0 324.2 L375.9 326.1 L376.9 328.0 L378.0 329.7 L379.1 331.4 L380.4 333.1 L381.7 334.6 L383.0 336.0 L384.4 337.2 L385.8 338.4 L387.2 339.4 L388.7 340.2 L390.1 340.9 L391.5 341.5 L392.9 341.9 L394.3 342.1 L395.6 342.1 L396.9 342.0 L398.1 341.7 L399.2 341.2Z" fill="#f8f8f8" stroke="#141414" stroke-width="2.21" stroke-linejoin="round" stroke-linecap="round" />
<path d="M395.0 333.0 L395.7 332.6 L396.2 332.1 L396.8 331.5 L397.2 330.9 L397.6 330.1 L397.9 329.3 L398.2 328.4 L398.4 327.4 L398.5 326.4 L398.5 325.3 L398.4 324.2 L398.3 323.0 L398.1 321.8 L397.8 320.6 L397.4 319.4 L397.0 318.3 L396.5 317.1 L395.9 315.9 L395.3 314.8 L394.7 313.7 L393.9 312.6 L393.2 311.6 L392.4 310.7 L391.6 309.8 L390.7 309.0 L389.8 308.3 L389.0 307.7 L388.1 307.2 L387.2 306.8 L386.3 306.4 L385.4 306.2 L384.6 306.1 L383.8 306.1 L383.0 306.1 L382.3 306.3 L381.6 306.6 L380.9 307.0 L380.4 307.5 L379.8 308.1 L379.4 308.7 L379.0 309.5 L378.7 310.3 L378.4 311.2 L378.2 312.2 L378.1 313.2 L378.1 314.3 L378.2 315.4 L378.3 316.6 L378.5 317.8 L378.8 319.0 L379.2 320.2 L379.6 321.3 L380.1 322.5 L380.7 323.7 L381.3 324.8 L381.9 325.9 L382.7 327.0 L383.4 328.0 L384.2 328.9 L385.0 329.8 L385.9 330.6 L386.8 331.3 L387.6 331.9 L388.5 332.4 L389.4 332.8 L390.3 333.2 L391.2 333.4 L392.0 333.5 L392.8 333.5 L393.6 333.5 L394.3 333.3 L395.0 333.0Z" fill="#f8f8f8" stroke="#141414" stroke-width="1.82" stroke-linejoin="round" stroke-linecap="round" />
<path d="M380.7 308.1 L380.3 308.8 L380.0 309.6 L379.7 310.6 L379.6 311.5 L379.5 312.6 L379.5 313.6 L379.5 314.7 L379.7 315.9 L379.9 317.1 L380.2 318.3 L380.5 319.5 L380.9 320.7 L381.4 321.9 L382.0 323.0 L382.6 324.2 L383.3 325.2 L384.0 326.3 L384.7 327.3 L385.5 328.2 L386.4 329.1 L387.2 329.9 L388.1 330.6 L389.0 331.2 L389.9 331.7 L390.8 332.2 L391.6 332.5 L392.5 332.7 L393.3 332.8" fill="none" stroke="#141414" stroke-width="1.3" stroke-linejoin="round" stroke-linecap="round" />
<path d="M101.5 280.8 L99.4 282.1 L97.5 283.7 L95.7 285.6 L94.2 287.8 L93.0 290.2 L91.9 293.0 L91.1 295.9 L90.5 299.1 L90.2 302.5 L90.1 306.0 L90.3 309.7 L90.8 313.5 L91.5 317.3 L92.4 321.2 L93.6 325.2 L95.0 329.1 L96.6 333.0 L98.4 336.8 L100.5 340.5 L102.6 344.1 L105.0 347.5 L107.5 350.8 L110.1 353.8 L112.8 356.7 L115.6 359.2 L118.5 361.6 L121.3 363.6 L124.3 365.3 L127.2 366.7 L130.0 367.8 L132.9 368.6 L135.6 369.0 L138.3 369.0 L140.8 368.8 L143.3 368.2 L145.5 367.2 L159.8 359.9 L161.9 358.7 L163.8 357.1 L165.5 355.2 L167.0 353.0 L168.3 350.5 L169.4 347.8 L170.2 344.8 L170.7 341.6 L171.0 338.3 L171.1 334.7 L170.9 331.1 L170.5 327.3 L169.8 323.4 L168.8 319.5 L167.7 315.6 L166.3 311.7 L164.6 307.8 L162.8 304.0 L160.8 300.2 L158.6 296.7 L156.3 293.2 L153.8 290.0 L151.2 286.9 L148.5 284.1 L145.7 281.5 L142.8 279.2 L139.9 277.1 L137.0 275.4 L134.1 274.0 L131.2 272.9 L128.4 272.2 L125.6 271.8 L123.0 271.7 L120.4 272.0 L118.0 272.6 L115.7 273.5Z" fill="#f8f8f8" stroke="#141414" stroke-width="2.21" stroke-linejoin="round" stroke-linecap="round" />
<path d="M145.5 367.2 L147.6 365.9 L149.5 364.3 L151.3 362.4 L152.8 360.2 L154.0 357.8 L155.1 355.0 L155.9 352.1 L156.5 348.9 L156.8 345.5 L156.9 342.0 L156.7 338.3 L156.2 334.5 L155.5 330.7 L154.6 326.8 L153.4 322.8 L152.0 318.9 L150.4 315.0 L148.6 311.2 L146.5 307.5 L144.4 303.9 L142.0 300.5 L139.5 297.2 L136.9 294.2 L134.2 291.3 L131.4 288.8 L128.5 286.4 L125.7 284.4 L122.7 282.7 L119.8 281.3 L117.0 280.2 L114.1 279.4 L111.4 279.0 L108.7 279.0 L106.2 279.2 L103.7 279.8 L101.5 280.8" fill="none" stroke="#141414" stroke-width="2.21" stroke-linejoin="round" stroke-linecap="round" />
<path d="M145.5 367.2 L147.6 365.9 L149.5 364.3 L151.3 362.4 L152.8 360.2 L154.0 357.8 L155.1 355.0 L155.9 352.1 L156.5 348.9 L156.8 345.5 L156.9 342.0 L156.7 338.3 L156.2 334.5 L155.5 330.7 L154.6 326.8 L153.4 322.8 L152.0 318.9 L150.4 315.0 L148.6 311.2 L146.5 307.5 L144.4 303.9 L142.0 300.5 L139.5 297.2 L136.9 294.2 L134.2 291.3 L131.4 288.8 L128.5 286.4 L125.7 284.4 L122.7 282.7 L119.8 281.3 L117.0 280.2 L114.1 279.4 L111.4 279.0 L108.7 279.0 L106.2 279.2 L103.7 279.8 L101.5 280.8 L99.4 282.1 L97.5 283.7 L95.7 285.6 L94.2 287.8 L93.0 290.2 L91.9 293.0 L91.1 295.9 L90.5 299.1 L90.2 302.5 L90.1 306.0 L90.3 309.7 L90.8 313.5 L91.5 317.3 L92.4 321.2 L93.6 325.2 L95.0 329.1 L96.6 333.0 L98.4 336.8 L100.5 340.5 L102.6 344.1 L105.0 347.5 L107.5 350.8 L110.1 353.8 L112.8 356.7 L115.6 359.2 L118.5 361.6 L121.3 363.6 L124.3 365.3 L127.2 366.7 L130.0 367.8 L132.9 368.6 L135.6 369.0 L138.3 369.0 L140.8 368.8 L143.3 368.2 L145.5 367.2Z" fill="#f8f8f8" stroke="#141414" stroke-width="2.21" stroke-linejoin="round" stroke-linecap="round" />
<path d="M143.5 361.0 L145.3 359.9 L146.9 358.5 L148.4 356.8 L149.7 354.9 L150.8 352.8 L151.8 350.4 L152.5 347.9 L152.9 345.1 L153.2 342.2 L153.3 339.1 L153.1 336.0 L152.7 332.7 L152.1 329.3 L151.3 326.0 L150.3 322.5 L149.1 319.2 L147.7 315.8 L146.1 312.5 L144.4 309.3 L142.5 306.2 L140.4 303.2 L138.3 300.4 L136.0 297.7 L133.7 295.3 L131.2 293.0 L128.8 291.0 L126.3 289.3 L123.7 287.8 L121.2 286.5 L118.7 285.6 L116.3 285.0 L113.9 284.6 L111.6 284.5 L109.4 284.8 L107.3 285.3 L105.3 286.1 L103.5 287.2 L101.8 288.6 L100.4 290.3 L99.0 292.2 L97.9 294.3 L97.0 296.7 L96.3 299.2 L95.8 302.0 L95.6 304.9 L95.5 308.0 L95.7 311.1 L96.1 314.4 L96.7 317.8 L97.5 321.1 L98.5 324.5 L99.7 327.9 L101.1 331.3 L102.7 334.6 L104.4 337.8 L106.3 340.9 L108.4 343.9 L110.5 346.7 L112.8 349.4 L115.1 351.8 L117.5 354.1 L120.0 356.1 L122.5 357.8 L125.0 359.3 L127.6 360.5 L130.1 361.5 L132.5 362.1 L134.9 362.5 L137.2 362.6 L139.4 362.3 L141.5 361.8 L143.5 361.0Z" fill="none" stroke="#141414" stroke-width="1.69" stroke-linejoin="round" stroke-linecap="round" />
<ellipse cx="144.6" cy="353.0" rx="4.2" ry="5" fill="#f8f8f8" stroke="#141414" stroke-width="1.1" transform="rotate(-27 144.6 353.0)"/>
<ellipse cx="129.0" cy="295.2" rx="4.2" ry="5" fill="#f8f8f8" stroke="#141414" stroke-width="1.1" transform="rotate(-27 129.0 295.2)"/>
<ellipse cx="116.3" cy="289.7" rx="4.2" ry="5" fill="#f8f8f8" stroke="#141414" stroke-width="1.1" transform="rotate(-27 116.3 289.7)"/>
<ellipse cx="106.0" cy="293.1" rx="4.2" ry="5" fill="#f8f8f8" stroke="#141414" stroke-width="1.1" transform="rotate(-27 106.0 293.1)"/>
<ellipse cx="100.8" cy="304.6" rx="4.2" ry="5" fill="#f8f8f8" stroke="#141414" stroke-width="1.1" transform="rotate(-27 100.8 304.6)"/>
<ellipse cx="102.2" cy="321.0" rx="4.2" ry="5" fill="#f8f8f8" stroke="#141414" stroke-width="1.1" transform="rotate(-27 102.2 321.0)"/>
<ellipse cx="109.8" cy="338.0" rx="4.2" ry="5" fill="#f8f8f8" stroke="#141414" stroke-width="1.1" transform="rotate(-27 109.8 338.0)"/>
<ellipse cx="121.5" cy="351.0" rx="4.2" ry="5" fill="#f8f8f8" stroke="#141414" stroke-width="1.1" transform="rotate(-27 121.5 351.0)"/>
<ellipse cx="134.3" cy="356.5" rx="4.2" ry="5" fill="#f8f8f8" stroke="#141414" stroke-width="1.1" transform="rotate(-27 134.3 356.5)"/>
<path d="M137.3 351.2 L138.7 350.4 L139.9 349.4 L141.0 348.2 L141.9 346.8 L142.7 345.2 L143.4 343.5 L143.9 341.7 L144.2 339.7 L144.4 337.5 L144.5 335.3 L144.4 333.0 L144.1 330.6 L143.6 328.2 L143.0 325.7 L142.3 323.3 L141.4 320.8 L140.4 318.4 L139.3 316.0 L138.0 313.6 L136.6 311.4 L135.1 309.2 L133.6 307.2 L131.9 305.2 L130.2 303.5 L128.5 301.8 L126.7 300.4 L124.9 299.1 L123.0 298.0 L121.2 297.1 L119.4 296.4 L117.6 296.0 L115.9 295.7 L114.2 295.7 L112.6 295.8 L111.1 296.2 L109.7 296.8 L108.3 297.6 L107.1 298.6 L106.0 299.8 L105.1 301.2 L104.3 302.8 L103.6 304.5 L103.1 306.3 L102.8 308.3 L102.6 310.5 L102.5 312.7 L102.6 315.0 L102.9 317.4 L103.4 319.8 L104.0 322.3 L104.7 324.7 L105.6 327.2 L106.6 329.6 L107.7 332.0 L109.0 334.4 L110.4 336.6 L111.9 338.8 L113.4 340.8 L115.1 342.8 L116.8 344.5 L118.5 346.2 L120.3 347.6 L122.1 348.9 L124.0 350.0 L125.8 350.9 L127.6 351.6 L129.4 352.0 L131.1 352.3 L132.8 352.3 L134.4 352.2 L135.9 351.8 L137.3 351.2Z" fill="#f8f8f8" stroke="#141414" stroke-width="1.95" stroke-linejoin="round" stroke-linecap="round" />
<path d="M135.3 347.2 L136.4 346.5 L137.5 345.6 L138.4 344.6 L139.2 343.4 L139.9 342.1 L140.4 340.6 L140.9 339.0 L141.2 337.3 L141.3 335.5 L141.4 333.6 L141.3 331.7 L141.0 329.7 L140.7 327.6 L140.2 325.5 L139.5 323.4 L138.8 321.3 L137.9 319.2 L136.9 317.2 L135.9 315.2 L134.7 313.2 L133.4 311.4 L132.1 309.6 L130.7 308.0 L129.2 306.5 L127.7 305.1 L126.2 303.9 L124.7 302.8 L123.1 301.9 L121.5 301.1 L120.0 300.5 L118.5 300.1 L117.0 299.9 L115.6 299.9 L114.2 300.0 L112.9 300.3 L111.7 300.8 L110.6 301.5 L109.5 302.4 L108.6 303.4 L107.8 304.6 L107.1 305.9 L106.6 307.4 L106.1 309.0 L105.8 310.7 L105.7 312.5 L105.6 314.4 L105.7 316.3 L106.0 318.3 L106.3 320.4 L106.8 322.5 L107.5 324.6 L108.2 326.7 L109.1 328.8 L110.1 330.8 L111.1 332.8 L112.3 334.8 L113.6 336.6 L114.9 338.4 L116.3 340.0 L117.8 341.5 L119.3 342.9 L120.8 344.1 L122.3 345.2 L123.9 346.1 L125.5 346.9 L127.0 347.5 L128.5 347.9 L130.0 348.1 L131.4 348.1 L132.8 348.0 L134.1 347.7 L135.3 347.2Z" fill="none" stroke="#141414" stroke-width="1.3" stroke-linejoin="round" stroke-linecap="round" />
<path d="M131.3 343.3 L132.2 342.7 L133.0 342.1 L133.7 341.2 L134.4 340.3 L134.9 339.3 L135.4 338.1 L135.7 336.9 L135.9 335.5 L136.1 334.1 L136.1 332.6 L136.0 331.1 L135.8 329.5 L135.5 327.8 L135.1 326.2 L134.6 324.5 L134.0 322.9 L133.4 321.2 L132.6 319.6 L131.7 318.0 L130.8 316.5 L129.8 315.1 L128.8 313.7 L127.7 312.4 L126.5 311.2 L125.3 310.1 L124.1 309.1 L122.9 308.3 L121.7 307.5 L120.5 306.9 L119.2 306.5 L118.0 306.2 L116.9 306.0 L115.8 306.0 L114.7 306.1 L113.7 306.3 L112.7 306.7 L111.8 307.3 L111.0 307.9 L110.3 308.8 L109.6 309.7 L109.1 310.7 L108.6 311.9 L108.3 313.1 L108.1 314.5 L107.9 315.9 L107.9 317.4 L108.0 318.9 L108.2 320.5 L108.5 322.2 L108.9 323.8 L109.4 325.5 L110.0 327.1 L110.6 328.8 L111.4 330.4 L112.3 332.0 L113.2 333.5 L114.2 334.9 L115.2 336.3 L116.3 337.6 L117.5 338.8 L118.7 339.9 L119.9 340.9 L121.1 341.7 L122.3 342.5 L123.5 343.1 L124.8 343.5 L126.0 343.8 L127.1 344.0 L128.2 344.0 L129.3 343.9 L130.3 343.7 L131.3 343.3Z" fill="#f8f8f8" stroke="#141414" stroke-width="2.08" stroke-linejoin="round" stroke-linecap="round" />
<path d="M121.7 307.5 L120.5 306.9 L119.2 306.5 L118.0 306.2 L116.9 306.0 L115.8 306.0 L114.7 306.1 L113.7 306.3 L112.7 306.7 L111.8 307.3 L111.0 307.9 L110.3 308.8 L109.6 309.7 L109.1 310.7 L108.6 311.9 L108.3 313.1 L113.6 313.0 L113.8 311.7 L114.1 310.4 L114.5 309.3 L115.0 308.2 L115.6 307.3 L116.2 306.5 L117.0 305.8 L117.9 305.2 L118.8 304.8 L119.8 304.5 L120.8 304.4 L121.9 304.4 L123.0 304.6 L124.2 304.9 L125.4 305.3 L126.6 305.9 L127.8 306.6Z" fill="#1a1a1a" stroke="#141414" stroke-width="0.78" stroke-linejoin="round" stroke-linecap="round" />
<path d="M120.4 304.3 L119.4 304.5 L118.5 304.9 L117.6 305.4 L116.9 306.1 L116.2 306.8 L115.6 307.7 L115.1 308.7 L114.6 309.8 L114.3 311.0 L114.1 312.3 L114.0 313.6 L113.9 315.0 L114.0 316.5 L114.2 318.0 L114.5 319.6 L114.8 321.2 L115.3 322.7 L115.9 324.3 L116.5 325.9 L117.3 327.4 L118.1 328.9 L119.0 330.3 L119.9 331.7 L120.9 333.0 L122.0 334.3 L123.0 335.4 L124.2 336.4 L125.3 337.4 L126.5 338.2 L127.7 338.9 L128.8 339.5 L130.0 339.9 L131.1 340.2 L132.2 340.4 L133.3 340.4 L134.3 340.3" fill="none" stroke="#141414" stroke-width="1.43" stroke-linejoin="round" stroke-linecap="round" />
<path d="M102.1 393.4 L104.6 391.9 L106.8 390.1 L108.9 388.0 L110.7 385.5 L112.3 382.8 L113.6 379.8 L114.7 376.5 L115.5 373.0 L116.0 369.4 L116.2 365.5 L116.2 361.6 L115.8 357.5 L115.2 353.3 L114.3 349.1 L113.1 344.9 L111.7 340.7 L110.0 336.6 L108.1 332.5 L105.9 328.6 L103.6 324.8 L101.0 321.2 L98.3 317.7 L95.4 314.5 L92.4 311.6 L89.3 308.9 L86.2 306.5 L82.9 304.5 L79.7 302.7 L76.4 301.3 L73.1 300.3 L69.9 299.6 L66.8 299.3 L63.7 299.3 L60.8 299.7 L58.0 300.5 L55.3 301.6 L52.8 303.1 L50.6 304.9 L48.5 307.0 L46.7 309.5 L45.1 312.2 L43.8 315.2 L42.7 318.5 L41.9 322.0 L41.4 325.6 L41.2 329.5 L41.2 333.4 L41.6 337.5 L42.2 341.7 L43.1 345.9 L44.3 350.1 L45.7 354.3 L47.4 358.4 L49.3 362.5 L51.5 366.4 L53.8 370.2 L56.4 373.8 L59.1 377.3 L62.0 380.5 L65.0 383.4 L68.1 386.1 L71.2 388.5 L74.5 390.5 L77.7 392.3 L81.0 393.7 L84.3 394.7 L87.5 395.4 L90.6 395.7 L93.7 395.7 L96.6 395.3 L99.4 394.5 L102.1 393.4Z" fill="#f8f8f8" stroke="#141414" stroke-width="2.34" stroke-linejoin="round" stroke-linecap="round" />
<path d="M99.9 387.7 L101.9 386.5 L103.8 385.0 L105.4 383.2 L106.9 381.1 L108.2 378.7 L109.3 376.1 L110.1 373.3 L110.7 370.3 L111.0 367.1 L111.1 363.8 L111.0 360.3 L110.6 356.7 L110.0 353.1 L109.1 349.4 L108.0 345.7 L106.7 342.0 L105.2 338.4 L103.5 334.8 L101.6 331.3 L99.6 328.0 L97.3 324.7 L95.0 321.7 L92.5 318.8 L89.9 316.2 L87.3 313.8 L84.6 311.6 L81.8 309.8 L79.0 308.2 L76.2 306.9 L73.5 305.9 L70.8 305.2 L68.1 304.9 L65.5 304.8 L63.1 305.1 L60.7 305.7 L58.5 306.7 L56.5 307.9 L54.6 309.4 L53.0 311.2 L51.5 313.3 L50.2 315.7 L49.1 318.3 L48.3 321.1 L47.7 324.1 L47.4 327.3 L47.3 330.6 L47.4 334.1 L47.8 337.7 L48.4 341.3 L49.3 345.0 L50.4 348.7 L51.7 352.4 L53.2 356.0 L54.9 359.6 L56.8 363.1 L58.8 366.4 L61.1 369.7 L63.4 372.7 L65.9 375.6 L68.5 378.2 L71.1 380.6 L73.8 382.8 L76.6 384.6 L79.4 386.2 L82.2 387.5 L84.9 388.5 L87.6 389.2 L90.3 389.5 L92.9 389.6 L95.3 389.3 L97.7 388.7 L99.9 387.7Z" fill="#f8f8f8" stroke="#141414" stroke-width="2.08" stroke-linejoin="round" stroke-linecap="round" />
<path d="M40.5 383.1 L42.0 384.5 L43.6 385.8 L45.3 386.9 L47.0 387.8 L48.7 388.6 L50.4 389.2 L52.1 389.6 L53.8 389.8 L55.5 389.9 L57.1 389.7 L58.7 389.4 L60.2 388.9 L61.6 388.3 L62.9 387.4 L64.1 386.4 L65.2 385.3 L66.2 384.0 L67.1 382.5 L67.9 381.0 L68.5 379.3 L68.9 377.5 L69.2 375.6 L69.4 373.7 L69.4 371.7 L69.3 369.6 L69.0 367.5 L68.6 365.5 L68.0 363.4 L67.3 361.3 L66.4 359.3 L65.4 357.3 L64.3 355.4 L63.1 353.6 L61.8 351.8 L60.4 350.2 L58.9 348.7 L57.4 347.3 L55.8 346.1 L54.1 345.0 L52.4 344.1 L50.7 343.4 L49.0 342.8 L47.3 342.4 L45.6 342.2 L43.9 342.1 L42.3 342.3 L40.8 342.6 L39.3 343.1 L37.9 343.8 L36.6 344.7 L35.3 345.7 L34.2 346.9 L33.3 348.2 L32.4 349.6 L31.7 351.2 L31.1 352.9 L30.6 354.7 L30.3 356.6 L30.2 358.5 L30.2 360.6 L30.4 362.6 L30.7 364.7 L31.1 366.8 L31.7 368.9 L32.4 370.9 L34.9 371.8 L39.3 371.8 L39.4 368.6 L37.5 367.0 L37.1 365.4 L36.7 363.8 L36.4 362.2 L36.2 360.6 L36.1 359.1 L36.2 357.7 L36.3 356.3 L36.5 355.0 L36.9 353.7 L37.3 352.6 L37.9 351.6 L38.5 350.7 L39.2 349.9 L40.0 349.2 L40.9 348.7 L41.8 348.2 L42.9 348.0 L43.9 347.8 L45.0 347.9 L46.2 348.0 L47.3 348.3 L48.5 348.7 L49.7 349.3 L50.9 350.0 L52.1 350.8 L53.3 351.7 L54.5 352.8 L55.6 353.9 L56.7 355.2 L57.7 356.5 L58.6 357.9 L59.5 359.4 L60.3 360.9 L61.0 362.4 L61.7 364.0 L62.2 365.6 L62.7 367.2 L63.0 368.8 L63.3 370.4 L63.4 371.9 L63.5 373.4 L63.4 374.8 L63.2 376.2 L63.0 377.5 L62.6 378.7 L62.1 379.8 L61.5 380.7 L60.9 381.6 L60.1 382.4 L59.3 383.0 L58.4 383.5 L57.4 383.9 L56.4 384.1 L55.3 384.2 L54.2 384.1 L53.0 383.9 L51.8 383.6 L50.6 383.1 L49.4 382.5 L48.2 381.7 L47.0 380.9 L45.9 379.9 L45.3 377.5 L42.9 377.2 L40.7 380.5Z" fill="#f8f8f8" stroke="#141414" stroke-width="2.47" stroke-linejoin="round" stroke-linecap="round" />
<circle cx="35.7" cy="370.3" r="0.9" fill="#141414"/>
<circle cx="42.3" cy="380.2" r="0.9" fill="#141414"/>
<path d="M49.5 361.5 L55.0 360.5 L53.0 357.0" fill="none" stroke="#141414" stroke-width="1.82" stroke-linejoin="round" stroke-linecap="round" />
<path d="M55.0 372.0 L60.0 371.0 L58.0 368.0" fill="none" stroke="#141414" stroke-width="1.82" stroke-linejoin="round" stroke-linecap="round" />
<path d="M127.5 143.5 L166.0 189.0" fill="none" stroke="#141414" stroke-width="1.69" stroke-linejoin="round" stroke-linecap="round" />
<path d="M174.0 106.0 L190.0 145.0" fill="none" stroke="#141414" stroke-width="1.69" stroke-linejoin="round" stroke-linecap="round" />
<path d="M207.0 90.0 L223.0 129.0" fill="none" stroke="#141414" stroke-width="1.69" stroke-linejoin="round" stroke-linecap="round" />
<path d="M237.0 65.0 L252.5 110.0" fill="none" stroke="#141414" stroke-width="1.69" stroke-linejoin="round" stroke-linecap="round" />
<path d="M351.0 239.0 L360.0 257.0" fill="none" stroke="#141414" stroke-width="1.69" stroke-linejoin="round" stroke-linecap="round" />
<path d="M385.0 220.0 L394.0 240.0" fill="none" stroke="#141414" stroke-width="1.69" stroke-linejoin="round" stroke-linecap="round" />
<path d="M442.5 59.0 L438.5 82.5" fill="none" stroke="#141414" stroke-width="1.69" stroke-linejoin="round" stroke-linecap="round" />
<path d="M471.0 41.0 L496.0 72.0" fill="none" stroke="#141414" stroke-width="1.69" stroke-linejoin="round" stroke-linecap="round" />
<path d="M545.0 167.5 L507.5 165.0" fill="none" stroke="#141414" stroke-width="1.69" stroke-linejoin="round" stroke-linecap="round" />
<path d="M545.5 228.0 L497.5 210.0" fill="none" stroke="#141414" stroke-width="1.69" stroke-linejoin="round" stroke-linecap="round" />
<path d="M509.0 316.0 L492.5 284.5" fill="none" stroke="#141414" stroke-width="1.69" stroke-linejoin="round" stroke-linecap="round" />
<path d="M478.5 341.0 L462.5 301.0" fill="none" stroke="#141414" stroke-width="1.69" stroke-linejoin="round" stroke-linecap="round" />
<path d="M448.5 359.5 L431.0 334.5" fill="none" stroke="#141414" stroke-width="1.69" stroke-linejoin="round" stroke-linecap="round" />
<path d="M414.0 379.5 L399.0 339.5" fill="none" stroke="#141414" stroke-width="1.69" stroke-linejoin="round" stroke-linecap="round" />
<path d="M237.5 377.0 L239.0 257.0" fill="none" stroke="#141414" stroke-width="1.69" stroke-linejoin="round" stroke-linecap="round" />
<path d="M207.5 379.0 L225.0 264.0" fill="none" stroke="#141414" stroke-width="1.69" stroke-linejoin="round" stroke-linecap="round" />
<path d="M187.0 404.0 L155.0 359.5" fill="none" stroke="#141414" stroke-width="1.69" stroke-linejoin="round" stroke-linecap="round" />
<path d="M160.0 424.0 L115.0 387.0" fill="none" stroke="#141414" stroke-width="1.69" stroke-linejoin="round" stroke-linecap="round" />
<path d="M125.0 452.0 L67.0 389.5" fill="none" stroke="#141414" stroke-width="1.69" stroke-linejoin="round" stroke-linecap="round" />
<text x="125.0" y="142.5" font-size="19.3" font-weight="bold" fill="#141414" text-anchor="middle">1</text>
<text x="170.0" y="105.0" font-size="19.3" font-weight="bold" fill="#141414" text-anchor="middle">2,3</text>
<text x="205.5" y="89.0" font-size="19.3" font-weight="bold" fill="#141414" text-anchor="middle">4</text>
<text x="234.0" y="64.5" font-size="19.3" font-weight="bold" fill="#141414" text-anchor="middle">5</text>
<text x="349.0" y="239.0" font-size="19.3" font-weight="bold" fill="#141414" text-anchor="middle">6</text>
<text x="384.0" y="220.0" font-size="19.3" font-weight="bold" fill="#141414" text-anchor="middle">7</text>
<text x="443.0" y="57.5" font-size="19.3" font-weight="bold" fill="#141414" text-anchor="middle">8</text>
<text x="467.5" y="39.0" font-size="19.3" font-weight="bold" fill="#141414" text-anchor="middle">9</text>
<text x="557.0" y="175.5" font-size="19.3" font-weight="bold" fill="#141414" text-anchor="middle">10</text>
<text x="557.0" y="237.5" font-size="19.3" font-weight="bold" fill="#141414" text-anchor="middle">11</text>
<text x="514.5" y="331.0" font-size="19.3" font-weight="bold" fill="#141414" text-anchor="middle">12</text>
<text x="482.0" y="356.5" font-size="19.3" font-weight="bold" fill="#141414" text-anchor="middle">13</text>
<text x="453.0" y="375.5" font-size="19.3" font-weight="bold" fill="#141414" text-anchor="middle">14</text>
<text x="417.0" y="394.5" font-size="19.3" font-weight="bold" fill="#141414" text-anchor="middle">12</text>
<text x="241.0" y="393.5" font-size="19.3" font-weight="bold" fill="#141414" text-anchor="middle">15</text>
<text x="208.5" y="393.5" font-size="19.3" font-weight="bold" fill="#141414" text-anchor="middle">16</text>
<text x="195.0" y="421.5" font-size="19.3" font-weight="bold" fill="#141414" text-anchor="middle">17</text>
<text x="169.0" y="440.5" font-size="19.3" font-weight="bold" fill="#141414" text-anchor="middle">18</text>
<text x="136.5" y="467.5" font-size="19.3" font-weight="bold" fill="#141414" text-anchor="middle">19</text>
<g style="mix-blend-mode:multiply"><text transform="translate(155.5,256.2) scale(1,1.035)" x="0" y="0" font-size="51.7" font-weight="bold" textLength="289.5" lengthAdjust="spacing" fill="none" stroke="#cfcfcf" stroke-width="1.05">ЖЕЛЕЗЯКА</text></g>
</svg>
</body></html>
